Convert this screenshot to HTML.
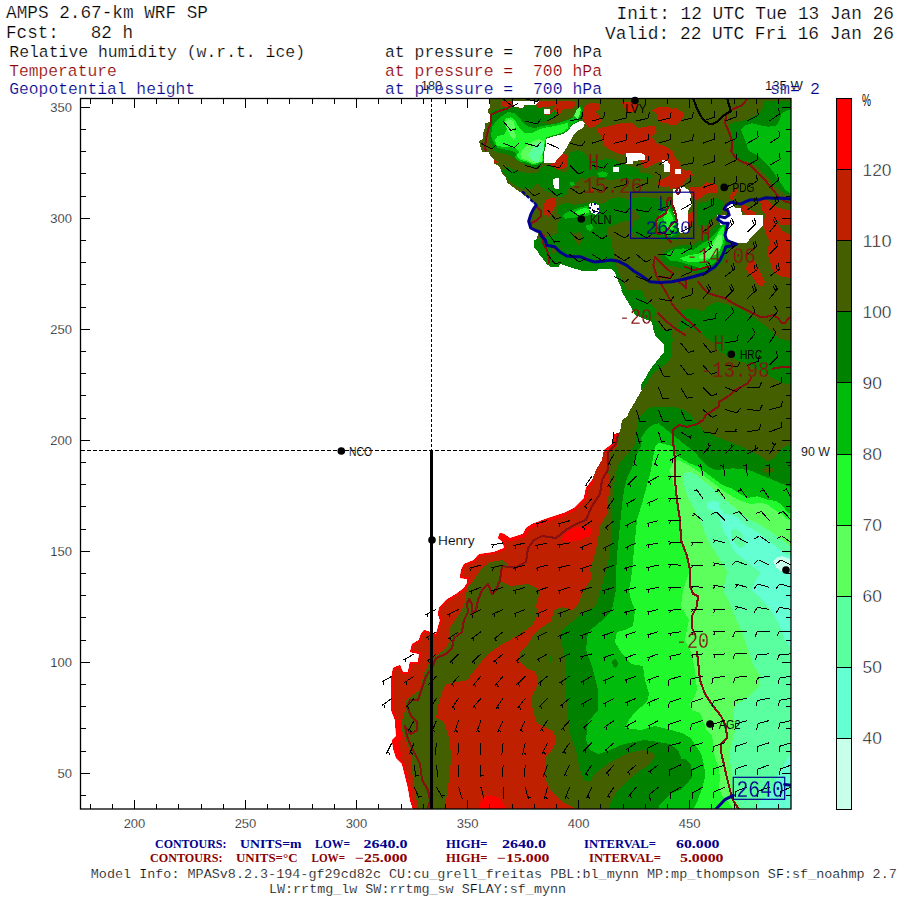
<!DOCTYPE html>
<html><head><meta charset="utf-8"><title>AMPS 2.67-km WRF SP</title>
<style>
html,body{margin:0;padding:0;background:#fff;}
body{width:900px;height:900px;overflow:hidden;}
svg{display:block;}
.m{font-family:"Liberation Mono",monospace;}
.s{font-family:"Liberation Sans",sans-serif;}
.t{font-family:"Liberation Serif",serif;font-weight:bold;}
</style></head><body>
<svg width="900" height="900" viewBox="0 0 900 900">
<rect width="900" height="900" fill="#fff"/>
<defs><clipPath id="cp"><rect x="80.5" y="98.5" width="710.5" height="710.5"/></clipPath></defs>

<g clip-path="url(#cp)" shape-rendering="crispEdges">
<polygon fill="#445f00" points="490.0,98.0 490.0,107.0 488.0,110.0 488.0,113.0 491.0,115.0 491.0,122.0 485.0,123.0 485.0,128.0 483.0,133.0 483.0,139.0 479.0,141.0 480.0,145.0 482.0,152.0 489.0,152.0 490.0,155.0 494.0,160.0 494.0,164.0 498.0,165.0 500.0,168.0 502.0,173.0 506.0,178.0 507.5,183.0 513.0,187.0 517.0,190.0 520.0,192.0 523.0,195.0 530.0,198.0 533.0,202.0 537.0,205.0 533.0,210.0 530.0,215.0 528.0,222.0 532.0,228.0 538.0,232.0 537.0,240.0 536.0,241.0 536.0,245.0 534.0,246.0 534.0,248.0 538.0,251.0 540.0,255.0 545.0,257.5 547.0,262.0 550.0,266.0 557.5,266.0 558.0,263.0 565.0,263.0 567.0,266.0 576.0,267.5 582.0,270.0 597.0,270.0 598.0,268.0 612.0,269.0 615.0,272.0 617.0,278.0 620.0,285.0 623.0,293.0 627.0,300.0 632.0,308.0 636.0,313.0 644.0,317.0 652.0,322.0 653.0,328.0 656.0,337.0 664.0,345.0 665.0,357.0 660.0,362.0 657.0,367.0 652.0,372.0 647.5,377.0 645.0,385.0 640.0,393.0 635.0,402.0 630.0,410.0 627.0,417.0 622.0,420.0 620.0,432.0 614.0,434.0 612.0,444.0 604.0,450.0 602.0,460.0 596.0,470.0 592.0,480.0 586.0,488.0 584.0,498.0 580.0,502.0 574.0,508.0 564.0,513.0 548.0,518.0 532.0,524.0 526.0,528.0 523.0,534.0 510.0,538.0 504.0,534.0 500.0,533.0 498.0,538.0 503.0,542.0 504.0,548.0 494.0,552.0 480.0,554.0 478.0,555.0 474.0,560.0 464.0,564.0 461.0,570.0 460.0,578.0 467.0,579.0 467.0,583.0 464.0,588.0 456.0,594.0 446.0,600.0 439.0,608.0 438.0,614.0 440.0,620.0 436.0,634.0 424.0,630.0 421.0,634.0 419.0,640.0 412.0,644.0 410.0,652.0 419.0,654.0 418.0,662.0 410.0,662.0 408.0,672.0 403.0,672.0 400.0,665.0 393.0,668.0 391.0,680.0 391.0,710.0 395.0,720.0 396.0,736.0 392.0,740.0 393.0,748.0 396.0,758.0 402.0,764.0 405.0,776.0 408.0,788.0 410.0,800.0 413.0,809.0 792.0,809.0 792.0,98.0"/>
<polygon fill="#be2000" points="620.0,432.0 614.0,434.0 612.0,444.0 604.0,450.0 602.0,460.0 596.0,470.0 592.0,480.0 586.0,488.0 584.0,498.0 580.0,502.0 574.0,508.0 564.0,513.0 548.0,518.0 532.0,524.0 526.0,528.0 523.0,534.0 510.0,538.0 504.0,534.0 500.0,533.0 498.0,538.0 503.0,542.0 504.0,548.0 494.0,552.0 480.0,554.0 478.0,555.0 474.0,560.0 464.0,564.0 461.0,570.0 460.0,578.0 467.0,579.0 467.0,583.0 464.0,588.0 456.0,594.0 446.0,600.0 439.0,608.0 438.0,614.0 440.0,620.0 436.0,634.0 424.0,630.0 421.0,634.0 419.0,640.0 412.0,644.0 410.0,652.0 419.0,654.0 418.0,662.0 410.0,662.0 408.0,672.0 403.0,672.0 400.0,665.0 393.0,668.0 391.0,680.0 391.0,710.0 395.0,720.0 396.0,736.0 392.0,740.0 393.0,748.0 396.0,758.0 402.0,764.0 405.0,776.0 408.0,788.0 410.0,800.0 413.0,809.0 576.0,809.0 570.0,806.0 560.0,800.0 550.0,790.0 545.0,778.0 545.0,758.0 552.0,750.0 556.0,742.0 554.0,732.0 546.0,728.0 536.0,722.0 532.0,706.0 532.0,696.0 538.0,684.0 536.0,672.0 526.0,668.0 518.0,660.0 520.0,652.0 528.0,644.0 534.0,634.0 540.0,628.0 551.0,622.0 554.0,610.0 562.0,607.0 572.0,610.0 578.0,604.0 584.0,590.0 592.0,578.0 590.0,570.0 596.0,550.0 598.0,540.0 600.0,526.0 607.0,514.0 608.0,500.0 610.0,486.0 608.0,470.0 610.0,452.0 618.0,446.0 618.0,434.0"/>
<polygon fill="#445f00" points="490.0,562.0 502.0,560.0 508.0,564.0 502.0,570.0 502.0,582.0 510.0,586.0 528.0,584.0 536.0,588.0 540.0,592.0 536.0,606.0 538.0,614.0 532.0,626.0 520.0,634.0 510.0,640.0 496.0,648.0 486.0,656.0 478.0,666.0 470.0,676.0 468.0,680.0 446.0,684.0 442.0,692.0 438.0,706.0 436.0,718.0 444.0,722.0 450.0,740.0 451.0,760.0 449.0,780.0 446.0,800.0 446.0,809.0 418.0,809.0 413.0,780.0 410.0,750.0 404.0,736.0 400.0,724.0 404.0,716.0 406.0,700.0 420.0,690.0 424.0,672.0 426.0,670.0 430.0,660.0 446.0,648.0 450.0,640.0 450.0,628.0 458.0,616.0 464.0,606.0 466.0,594.0 468.0,586.0 474.0,580.0 482.0,568.0"/>
<polygon fill="#ff0000" points="478.0,809.0 482.0,798.0 490.0,795.0 500.0,798.0 506.0,809.0"/>
<polygon fill="#ff0000" points="564.0,534.0 572.0,528.0 584.0,526.0 592.0,528.0 590.0,536.0 580.0,540.0 568.0,542.0 562.0,540.0"/>
<polygon fill="#008200" points="792.0,443.0 784.3,446.7 779.3,451.7 774.3,458.3 767.7,461.7 761.0,456.7 749.3,450.0 737.7,445.0 724.3,440.0 712.7,435.0 702.7,430.0 696.0,421.7 691.0,415.0 682.7,409.0 671.0,406.7 657.7,406.7 648.0,408.0 641.0,415.0 637.0,422.0 636.5,430.0 636.0,443.0 631.0,450.0 624.5,457.0 619.0,464.0 616.0,472.0 614.0,485.0 612.5,500.0 612.0,515.0 612.5,529.0 610.0,547.0 608.0,565.0 603.0,582.0 600.0,592.0 596.0,606.0 580.0,614.0 572.0,622.0 562.0,630.0 561.0,640.0 564.0,654.0 566.0,670.0 565.0,690.0 568.0,710.0 569.0,730.0 572.0,740.0 576.0,750.0 580.0,770.0 584.0,780.0 590.0,782.0 594.0,774.0 610.0,762.0 626.0,754.0 642.0,750.0 652.0,752.0 655.0,756.0 650.0,764.0 638.0,772.0 626.0,782.0 618.0,790.0 612.0,800.0 608.0,809.0 792.0,809.0"/>
<polygon fill="#00ba0c" points="792.0,488.0 771.0,479.0 761.0,475.0 749.3,470.0 732.7,468.3 716.0,470.0 707.7,466.7 701.0,460.0 696.0,453.3 687.7,446.7 679.3,440.0 671.0,433.3 662.7,426.7 654.3,424.0 647.7,428.3 641.0,438.0 641.0,446.0 637.0,454.0 634.0,462.0 631.0,470.0 627.0,478.0 624.0,490.0 622.0,505.0 620.5,520.0 619.0,535.0 617.5,550.0 616.5,565.0 616.0,582.0 616.0,590.0 612.0,610.0 600.0,622.0 588.0,632.0 586.0,650.0 592.0,666.0 598.0,690.0 598.0,710.0 588.0,722.0 586.0,740.0 590.0,750.0 598.0,754.0 610.0,750.0 624.0,744.0 644.0,740.0 658.0,742.0 670.0,744.0 678.0,750.0 682.0,760.0 690.0,766.0 692.0,778.0 682.0,786.0 670.0,794.0 660.0,804.0 658.0,809.0 792.0,809.0"/>
<polygon fill="#20fa2c" points="651.0,470.0 655.0,446.0 659.0,443.0 664.0,444.0 672.0,446.0 675.0,452.0 676.0,455.0 681.6,458.4 689.4,463.1 697.3,466.3 703.6,471.0 710.0,475.8 716.3,480.5 722.6,485.2 732.0,488.4 738.4,493.1 747.8,497.8 757.3,496.3 766.8,499.4 776.2,501.0 782.5,505.7 787.3,512.0 792.0,514.0 792.0,809.0 693.0,809.0 697.3,802.0 700.0,794.0 702.7,786.0 705.3,775.3 704.0,764.7 701.3,754.0 696.0,746.0 690.7,738.0 682.0,733.0 671.0,730.0 655.0,726.0 641.0,730.0 625.0,728.0 629.0,720.0 635.0,712.0 647.0,702.0 649.0,694.0 645.0,680.0 643.0,666.0 631.0,664.0 621.0,652.0 615.0,642.0 617.0,632.0 625.0,630.0 633.0,626.0 635.0,610.0 631.0,600.0 629.0,590.0 631.0,580.0 633.0,560.0 635.0,540.0 637.0,520.0 643.0,500.0"/>
<polygon fill="#5cff5c" points="668.9,471.0 673.7,461.6 678.4,460.0 686.3,463.9 694.2,468.7 702.1,474.2 710.0,480.5 716.3,485.2 724.2,491.5 732.0,496.3 741.5,501.0 751.0,504.2 760.4,502.6 766.8,504.2 773.1,508.9 781.0,513.6 785.7,518.4 792.0,521.5 792.0,809.0 733.0,809.0 729.3,803.3 722.7,796.7 718.7,788.7 720.0,778.0 718.7,767.3 714.7,756.7 713.3,746.0 712.0,735.3 706.7,730.0 702.7,719.3 700.0,712.7 692.0,710.0 689.3,704.7 694.7,696.7 697.0,690.0 695.0,670.0 691.0,652.0 685.0,640.0 689.0,620.0 681.0,606.0 683.0,590.0 689.4,572.0 689.4,564.0 686.3,553.0 681.6,540.4 680.0,524.7 678.4,508.9 675.2,493.1 672.0,477.3"/>
<polygon fill="#5affa0" points="683.9,473.4 689.4,471.8 697.3,475.8 705.2,482.1 713.1,488.4 721.0,496.3 728.9,502.6 738.4,510.5 747.8,518.4 757.3,523.1 769.9,531.0 781.0,538.9 792.0,547.5 792.0,809.0 741.0,809.0 738.7,804.7 734.7,800.7 733.3,795.0 732.0,776.7 730.7,767.3 730.0,756.7 730.7,746.0 733.3,738.0 735.3,730.0 734.7,720.7 733.3,711.3 736.0,704.7 742.7,700.7 752.0,694.0 759.0,686.0 759.0,674.0 753.0,664.0 747.0,646.0 741.0,630.0 735.0,616.0 729.0,602.0 723.0,590.0 727.3,572.0 722.6,564.1 717.8,556.2 711.5,546.8 705.2,534.1 702.1,524.7 697.3,515.2 692.6,505.7 687.9,496.3 683.1,483.6"/>
<polygon fill="#64ffd2" points="706.8,502.6 713.1,501.0 719.4,502.6 719.4,507.3 724.2,513.6 732.0,515.2 738.4,518.4 744.7,524.7 752.6,529.4 760.4,534.1 768.3,540.4 776.2,546.8 784.1,553.1 792.0,557.0 792.0,650.0 785.0,640.0 779.0,624.0 771.0,610.0 759.0,596.0 751.0,590.0 760.4,572.0 754.1,567.3 747.8,562.5 739.9,556.2 733.6,549.9 728.9,540.4 724.2,532.6 721.0,524.7 719.4,516.8 713.1,510.5 706.8,508.9"/>
<polygon fill="#5affa0" points="730.5,531.0 735.2,528.6 741.5,532.6 744.7,540.4 744.7,546.8 739.9,548.3 735.2,543.6 731.3,537.3"/>
<polygon fill="#c8ffeb" points="773.1,561.0 776.2,557.8 782.5,556.2 788.8,558.6 792.0,562.5 792.0,572.0 782.5,572.0 776.2,567.3"/>
<polygon fill="#64ffd2" points="792.0,754.0 786.7,759.3 782.7,767.3 778.7,772.7 776.0,780.7 773.3,788.7 768.0,796.7 760.0,800.7 757.3,809.0 792.0,809.0"/>
<polygon fill="#008200" points="680.0,759.0 685.0,759.0 690.7,764.7 692.0,772.7 688.0,783.0 680.0,790.0 670.0,794.0 682.0,786.0 692.0,778.0"/>
<polygon fill="#be2000" points="502.3,101.3 513.0,101.3 513.0,106.7 509.7,108.7 502.3,106.0"/>
<polygon fill="#be2000" points="539.0,101.3 573.7,101.3 575.7,104.0 573.7,108.0 568.3,109.3 563.0,108.7 560.3,113.3 555.0,116.0 549.7,119.3 541.7,122.7 539.0,120.7 543.0,116.0 549.7,112.0 553.7,109.3 555.0,105.3 544.3,107.3 537.7,108.0 536.3,104.7"/>
<polygon fill="#be2000" points="583.0,108.0 587.0,104.0 595.0,102.7 599.7,104.0 600.3,109.3 595.0,112.0 599.7,116.0 601.0,121.3 595.0,126.7 589.7,128.0 585.7,124.0 583.0,118.7 581.7,113.3"/>
<polygon fill="#be2000" points="549.7,164.0 555.0,162.7 557.7,158.7 561.7,154.7 565.7,153.3 568.3,157.3 569.7,161.3 567.0,166.7 561.7,169.3 555.0,170.0 551.7,168.0"/>
<polygon fill="#be2000" points="551.0,188.0 555.0,189.3 557.7,192.0 555.0,194.0 551.7,192.0"/>
<polygon fill="#be2000" points="545.7,200.0 551.0,197.3 556.3,198.7 555.0,202.7 552.3,208.0 549.7,214.7 544.3,214.7 543.0,206.7"/>
<polygon fill="#be2000" points="494.3,160.0 497.0,161.3 496.3,164.0 494.3,163.3"/>
<polygon fill="#be2000" points="543.3,205.3 546.7,200.0 550.7,198.0 555.3,200.0 556.0,204.0 553.3,209.3 550.7,214.7 548.7,217.3 546.7,214.7 546.0,209.3"/>
<polygon fill="#be2000" points="548.7,188.0 553.3,188.7 555.3,191.3 552.0,190.7"/>
<polygon fill="#be2000" points="588.7,188.7 592.7,188.7 592.7,192.0 588.7,192.0"/>
<polygon fill="#be2000" points="598.3,128.3 606.7,126.7 620.0,123.3 631.7,122.5 638.3,128.3 646.7,126.7 655.0,125.8 656.7,131.7 651.7,136.7 656.7,143.3 666.7,146.7 673.3,151.7 675.0,158.3 680.0,161.7 680.8,165.0 673.3,168.3 666.7,165.0 660.0,161.7 653.3,165.0 645.0,168.3 640.0,161.7 645.0,156.7 641.7,153.3 626.7,152.5 623.3,155.0 616.7,153.3 610.0,150.0 603.3,145.0 601.7,136.7 596.7,131.7"/>
<polygon fill="#be2000" points="651.7,110.0 660.0,106.7 670.0,107.5 680.0,111.7 683.3,116.7 680.0,121.7 671.7,124.2 661.7,122.5 656.7,118.3 656.7,114.2"/>
<polygon fill="#be2000" points="621.7,101.7 636.7,101.7 638.3,106.7 635.0,111.7 626.7,111.7 623.3,106.7"/>
<polygon fill="#be2000" points="658.3,181.7 670.0,175.0 680.0,175.0 688.3,170.0 692.5,173.3 690.0,176.7 683.3,178.3 682.5,185.0 676.7,187.5 671.7,185.8 663.3,187.5 658.3,185.0"/>
<polygon fill="#be2000" points="690.0,188.3 696.7,187.5 703.3,185.8 710.0,182.5 716.7,185.0 718.3,190.0 713.3,192.5 706.7,191.7 700.0,195.0 696.7,200.0 693.3,198.3 691.7,193.3"/>
<polygon fill="#be2000" points="687.5,215.0 693.3,211.7 694.2,218.3 690.0,226.7 686.7,228.3 685.8,220.0"/>
<polygon fill="#be2000" points="670.0,109.4 675.8,108.0 683.0,112.3 681.6,119.6 675.8,125.3 670.0,125.3"/>
<polygon fill="#be2000" points="670.0,151.3 672.9,155.7 678.7,161.4 680.1,167.2 684.4,170.1 691.7,171.6 693.1,175.9 685.9,178.8 683.0,184.6 677.2,187.4 670.0,188.9"/>
<polygon fill="#be2000" points="688.8,187.4 701.8,187.4 706.1,182.4 713.3,183.1 717.7,187.4 718.4,193.2 709.0,193.2 703.2,196.1 696.0,200.4 693.1,196.1"/>
<polygon fill="#be2000" points="729.2,197.6 733.6,190.3 737.9,187.4 736.4,193.2 732.1,200.4"/>
<polygon fill="#be2000" points="759.6,199.0 768.2,200.4 774.0,206.2 782.7,209.1 792.8,210.6 792.8,225.0 779.8,225.0 776.9,216.3 768.2,216.3 762.4,210.6 761.0,204.8"/>
<polygon fill="#be2000" points="742.2,204.8 748.0,206.2 750.9,210.6 755.2,212.0 753.8,219.2 748.0,216.3 742.2,210.6"/>
<polygon fill="#be2000" points="766.7,215.0 776.7,215.0 778.3,225.0 783.3,231.7 791.7,235.0 791.7,278.3 781.7,276.7 773.3,271.7 770.0,261.7 766.7,251.7 770.0,241.7 765.0,231.7 763.3,221.7"/>
<polygon fill="#be2000" points="748.3,263.3 753.3,258.3 756.7,265.0 760.0,271.7 765.0,281.7 763.3,286.7 758.3,285.0 753.3,278.3 748.3,273.3 745.8,268.3"/>
<polygon fill="#be2000" points="751.7,215.0 756.7,215.0 758.3,218.3 753.3,218.3"/>
<polygon fill="#008200" points="492.3,110.7 499.0,108.7 507.0,106.7 515.0,107.3 520.3,109.3 525.7,106.0 531.0,104.7 537.7,108.0 544.3,107.3 543.7,114.7 549.7,114.7 555.0,109.3 557.7,113.3 553.7,117.3 547.0,121.3 541.7,122.7 549.7,124.0 557.7,122.7 565.7,120.0 572.3,117.3 576.3,109.3 579.0,105.3 581.7,104.0 583.0,109.3 581.7,116.0 581.7,120.7 576.3,122.7 571.0,126.0 568.3,130.7 563.0,134.0 555.0,136.0 546.3,138.7 545.7,146.7 543.7,153.3 544.3,162.7 539.0,166.7 533.7,168.0 528.3,165.3 520.3,162.7 515.0,158.7 508.3,154.7 501.7,153.3 495.0,152.0 491.0,146.7 489.7,138.7 488.3,132.0 491.0,125.3 492.3,117.3"/>
<polygon fill="#008200" points="501.7,170.7 507.0,166.7 515.0,170.7 523.0,172.0 531.0,173.3 541.7,172.0 549.7,170.7 555.0,172.0 560.3,176.0 568.3,170.7 572.3,165.3 576.3,154.7 581.7,152.0 585.7,156.0 588.3,162.7 585.7,170.7 581.7,176.0 579.0,181.3 573.7,182.7 568.3,186.7 567.0,193.3 561.7,197.3 555.0,196.0 549.7,189.3 541.7,185.3 533.7,182.7 528.3,186.7 520.3,188.0 515.0,185.3 509.7,181.3 505.7,176.0"/>
<polygon fill="#008200" points="558.7,205.3 565.3,202.7 573.3,204.7 580.0,204.0 588.0,202.7 594.7,201.3 600.0,204.0 605.3,202.7 610.7,198.7 618.7,197.3 626.7,198.7 630.7,201.3 630.7,220.0 625.3,221.3 618.7,222.7 613.3,225.3 606.7,228.0 608.0,234.7 612.0,241.3 610.7,249.3 605.3,254.7 600.0,260.0 592.0,260.0 584.0,256.0 576.0,254.7 568.0,253.3 561.3,249.3 558.7,242.7 557.3,233.3 557.3,225.3 560.0,217.3 557.3,210.7"/>
<polygon fill="#445f00" points="572.0,233.3 580.0,232.0 582.7,236.0 581.3,241.3 578.7,245.3 576.0,242.7 573.3,237.3"/>
<polygon fill="#008200" points="534.0,240.0 539.3,238.7 545.3,237.3 550.7,242.7 556.0,246.7 560.0,252.0 564.0,254.7 570.7,256.7 578.7,257.3 586.7,260.0 594.7,262.7 605.3,261.3 613.3,260.0 616.0,265.3 618.7,273.3 622.7,281.3 626.7,290.7 630.7,296.0 633.3,300.0 626.7,300.0 622.7,290.7 620.0,284.0 617.3,278.7 614.7,272.0 612.0,269.3 598.7,268.7 597.3,270.7 581.3,270.7 576.0,268.0 568.0,266.7 565.3,264.0 560.0,264.0 558.7,266.7 550.7,266.7 546.7,264.0 544.0,260.0 540.0,256.0 537.3,250.7 534.0,248.0"/>
<polygon fill="#008200" points="539.3,238.7 545.3,237.3 557.3,233.3 560.0,249.3 576.0,254.7 592.0,260.0 605.3,254.7 612.0,241.3 613.3,260.0 616.0,265.3 612.0,269.3 598.7,268.7 581.3,270.7 560.0,264.0 546.7,264.0 537.3,250.7"/>
<polygon fill="#445f00" points="550.7,248.0 556.0,246.7 558.0,250.7 554.7,254.0 551.3,252.7"/>
<polygon fill="#008200" points="520.0,180.0 532.0,180.0 536.0,184.0 533.3,188.0 528.0,189.3 520.0,188.0"/>
<polygon fill="#008200" points="544.0,190.7 554.7,193.3 564.0,192.7 569.3,188.0 576.0,184.0 573.3,180.0 560.0,180.0 557.3,185.3 550.7,188.0"/>
<polygon fill="#008200" points="596.7,161.7 606.7,158.3 615.0,160.0 625.0,165.0 633.3,166.7 640.0,170.0 636.7,175.0 623.3,178.3 610.0,180.0 600.0,176.7 590.0,175.0 580.0,173.3 575.0,165.0 580.0,158.3 590.0,160.0"/>
<polygon fill="#008200" points="570.7,152.0 578.7,150.0 585.3,153.3 588.0,160.0 596.0,158.7 604.0,161.3 606.7,168.0 614.7,172.0 625.3,170.7 636.0,172.0 646.7,173.3 653.3,176.0 649.3,179.3 633.3,178.7 620.0,179.3 609.3,178.7 600.0,178.7 593.3,176.0 584.0,178.7 577.3,176.0 570.7,170.7 566.7,164.0 568.7,157.3"/>
<polygon fill="#008200" points="540.0,168.0 548.0,165.3 557.3,169.3 566.7,173.3 573.3,178.7 569.3,186.7 561.3,194.7 553.3,194.7 545.3,189.3 540.0,186.7"/>
<polygon fill="#00ba0c" points="597.3,173.3 602.7,171.3 608.0,173.3 606.0,176.7 600.0,177.3"/>
<polygon fill="#008200" points="631.7,198.3 643.3,196.7 656.7,198.3 668.3,201.7 673.3,198.3 676.7,211.7 680.0,233.3 676.7,240.0 663.3,240.0 653.3,235.0 640.0,238.3 631.7,231.7 633.3,221.7 640.0,218.3 636.7,211.7 631.7,208.3"/>
<polygon fill="#008200" points="696.7,203.3 706.7,201.7 716.7,198.3 723.3,201.7 721.7,211.7 713.3,218.3 706.7,225.0 700.0,228.3 696.7,221.7 698.3,211.7"/>
<polygon fill="#008200" points="763.9,101.5 771.1,100.8 792.8,100.8 792.8,196.1 785.6,194.7 779.8,190.3 774.0,184.6 769.7,178.8 763.9,173.0 756.7,165.8 748.0,161.4 739.3,160.0 733.6,154.2 731.4,144.1 732.1,136.9 730.7,131.1 729.2,125.3 733.6,122.4 742.2,121.0 750.9,118.1 759.6,112.3 763.9,106.6"/>
<polygon fill="#008200" points="681.7,310.0 693.3,308.3 703.3,311.7 706.7,306.7 716.7,301.7 728.3,305.0 740.0,308.3 750.0,315.0 760.0,321.7 770.0,330.0 778.3,338.3 791.7,346.7 791.7,353.3 776.7,353.3 766.7,351.7 756.7,346.7 743.3,346.7 728.3,348.3 716.7,345.0 705.0,336.7 700.0,331.7 690.0,328.3 683.3,321.7"/>
<polygon fill="#008200" points="704.3,326.7 741.0,326.7 767.7,335.0 791.0,341.7 791.0,385.0 779.3,381.7 767.7,375.0 754.3,368.3 741.0,361.7 727.7,356.7 716.0,348.3 714.3,340.0"/>
<polygon fill="#008200" points="620.8,290.0 641.7,290.0 645.0,298.3 653.3,306.7 656.7,311.7 653.3,318.3 658.3,323.3 665.0,333.3 670.0,341.7 671.7,356.7 666.7,363.3 660.0,368.3 653.3,373.3 648.3,380.0 645.0,385.0 647.5,376.7 651.7,371.7 656.7,366.7 660.0,361.7 665.0,356.7 664.2,345.0 655.8,336.7 653.3,328.3 651.7,321.7 635.0,315.0 631.7,308.3 626.7,300.0"/>
<polygon fill="#008200" points="681.7,310.0 693.3,308.3 701.7,311.7 705.0,318.3 700.0,323.3 690.0,325.0 683.3,330.0 676.7,331.7 680.0,323.3 683.3,316.7"/>
<polygon fill="#008200" points="654.3,330.0 671.8,330.0 672.7,340.0 671.0,351.7 666.0,360.0 657.7,368.3 651.0,375.0 646.0,385.0 641.0,390.0 641.0,385.0 646.0,376.7 651.0,368.3 657.7,360.0 664.3,351.7 666.0,340.0"/>
<polygon fill="#008200" points="660.0,256.7 666.7,250.0 680.0,245.0 693.3,245.0 700.0,240.0 708.3,233.3 716.7,225.0 723.3,218.3 730.0,223.3 730.0,240.0 728.3,251.7 723.3,261.7 716.7,268.3 706.7,273.3 696.7,273.3 686.7,270.0 675.0,266.7 665.0,265.0"/>
<polygon fill="#00ba0c" points="665.0,255.0 671.7,250.0 683.3,248.3 693.3,250.0 700.0,245.0 708.3,240.0 716.7,231.7 721.7,225.0 725.0,221.7 728.3,225.0 726.7,235.0 725.0,245.0 721.7,255.0 716.7,261.7 708.3,266.7 700.0,268.3 690.0,265.0 680.0,261.7 670.0,260.8"/>
<polygon fill="#20fa2c" points="680.0,258.3 690.0,255.0 700.0,253.3 708.3,246.7 715.0,238.3 720.0,230.0 723.3,226.7 725.0,231.7 723.3,241.7 720.0,250.0 713.3,256.7 703.3,261.7 693.3,262.5 683.3,260.8"/>
<polygon fill="#5cff5c" points="698.3,256.7 706.7,251.7 713.3,243.3 718.3,235.0 721.7,235.0 721.7,245.0 716.7,253.3 708.3,258.3 700.0,259.2"/>
<polygon fill="#00ba0c" points="492.3,126.7 495.0,122.7 501.7,116.0 508.3,112.0 515.0,113.3 519.0,117.3 523.0,122.7 528.3,126.7 535.0,128.0 541.7,126.0 549.7,124.7 557.7,123.3 565.7,120.7 572.3,118.0 576.3,110.7 580.3,106.7 581.7,110.7 580.3,117.3 576.3,122.0 571.0,125.3 568.3,130.0 563.0,133.3 555.0,135.3 546.3,138.0 545.0,146.7 543.0,153.3 543.7,161.3 537.7,164.7 532.3,165.3 527.0,162.7 519.0,161.3 515.0,157.3 516.3,153.3 511.0,150.7 504.3,149.3 497.7,148.0 493.7,142.7 491.0,136.0"/>
<polygon fill="#20fa2c" points="495.0,140.0 497.7,136.0 504.3,134.7 507.0,129.3 503.7,122.7 505.7,118.7 511.0,117.3 515.0,120.0 517.7,125.3 521.7,130.7 525.7,133.3 532.3,132.7 539.0,129.3 547.0,127.3 555.0,126.0 563.0,124.0 568.3,122.7 568.3,128.0 563.0,132.0 555.0,134.7 546.3,137.3 544.3,145.3 542.3,153.3 543.0,160.7 537.7,163.3 532.3,164.0 527.0,161.3 520.3,160.0 516.3,156.0 519.0,152.0 515.0,148.0 508.3,146.7 501.7,146.7 496.3,145.3"/>
<polygon fill="#5cff5c" points="505.0,122.0 508.3,119.3 513.7,121.3 515.0,126.7 513.7,130.7 516.3,136.0 513.7,140.0 509.7,134.7 507.0,129.3"/>
<polygon fill="#5cff5c" points="520.3,154.7 523.0,149.3 527.0,145.3 532.3,141.3 539.0,139.3 544.3,141.3 544.3,149.3 541.7,156.0 542.3,161.3 537.7,162.7 532.3,162.7 527.0,160.0 521.7,158.7"/>
<polygon fill="#5affa0" points="528.3,154.7 532.3,149.3 535.0,144.0 540.3,142.0 544.3,144.0 543.0,152.0 540.3,156.0 540.3,161.3 536.3,162.0 532.3,160.0"/>
<polygon fill="#5cff5c" points="574.3,116.0 576.3,110.7 579.7,107.3 581.0,109.3 579.7,114.7 577.7,118.7"/>
<polygon fill="#00ba0c" points="562.0,216.0 565.3,213.3 570.7,210.7 576.0,208.7 582.7,206.7 588.0,206.0 589.3,210.7 590.7,214.7 586.7,216.0 578.7,216.7 573.3,218.0 565.3,218.7"/>
<polygon fill="#20fa2c" points="574.7,212.0 578.7,210.0 584.0,208.0 588.7,208.7 589.3,212.7 584.0,214.0 578.7,214.7"/>
<polygon fill="#00ba0c" points="586.0,225.3 592.0,224.0 593.3,228.0 590.7,231.3 586.7,229.3"/>
<polygon fill="#00ba0c" points="569.3,182.7 573.3,182.0 574.7,184.7 571.3,186.0"/>
<polygon fill="#00ba0c" points="656.7,218.3 663.3,211.7 668.3,205.0 671.7,211.7 676.7,221.7 678.3,231.7 671.7,236.7 663.3,235.0 658.3,228.3"/>
<polygon fill="#20fa2c" points="663.3,218.3 668.3,210.0 671.7,215.0 675.0,223.3 673.3,230.0 666.7,228.3"/>
<polygon fill="#00ba0c" points="740.8,129.7 745.1,125.3 752.3,123.2 759.6,125.3 768.2,126.8 776.9,125.3 779.8,119.6 781.2,113.8 785.6,110.9 792.8,109.4 792.8,194.7 785.6,190.3 779.8,181.7 774.0,173.0 769.7,167.2 763.9,161.4 758.1,155.7 752.3,152.8 748.0,149.9 746.6,144.1 743.7,136.9"/>
<polygon fill="#00ba0c" points="643.3,440.0 646.7,431.7 653.3,425.0 658.3,423.3 665.0,428.3 670.0,433.3 673.3,440.0"/>
<polygon fill="#ffffff" points="513.0,101.3 539.0,101.3 536.3,104.7 525.0,104.7 522.3,108.7 519.0,107.3 513.0,106.7"/>
<polygon fill="#ffffff" points="544.1,108.9 549.9,108.9 549.9,114.0 544.1,114.0"/>
<polygon fill="#ffffff" points="546.3,138.7 555.0,136.0 563.0,134.0 568.3,130.7 571.0,126.0 576.3,122.7 581.7,120.7 585.0,123.3 583.0,128.0 577.7,130.7 573.7,134.7 571.0,140.0 567.0,146.7 563.0,153.3 557.7,158.7 555.0,162.7 544.3,162.7 543.7,153.3 545.7,146.7"/>
<polygon fill="#ffffff" points="553.0,178.7 559.0,178.0 559.0,188.7 555.0,188.7 553.0,184.0"/>
<polygon fill="#ffffff" points="588.7,204.0 592.7,202.7 598.7,205.3 599.3,212.0 596.0,214.7 592.0,213.3 589.3,210.0"/>
<polygon fill="#ffffff" points="552.7,180.0 559.3,180.0 559.3,188.0 554.7,188.0 553.3,184.0"/>
<polygon fill="#ffffff" points="626.3,152.5 640.0,152.5 645.0,155.0 645.0,160.0 633.3,160.8 633.3,164.2 626.3,164.2"/>
<polygon fill="#ffffff" points="612.8,167.0 619.2,167.0 619.2,172.0 612.8,172.0"/>
<polygon fill="#ffffff" points="662.0,160.3 666.7,160.3 670.0,165.0 670.0,171.7 664.2,171.7 664.2,165.0 662.0,163.3"/>
<polygon fill="#ffffff" points="674.7,168.8 680.8,168.8 680.8,173.8 674.7,173.8"/>
<polygon fill="#ffffff" points="673.3,189.2 676.7,188.3 680.0,187.5 683.3,186.7 688.3,190.0 690.8,195.0 691.7,205.0 687.5,211.7 688.3,221.7 687.5,233.3 680.0,233.3 676.7,221.7 673.3,211.7 673.3,198.3"/>
<polygon fill="#ffffff" points="726.3,204.8 732.1,202.6 735.0,207.7 740.8,208.4 742.2,214.9 750.9,216.3 762.4,220.7 762.4,225.0 720.6,225.0 717.7,219.2 724.9,217.8 728.5,214.9 727.8,210.6 724.2,209.1"/>
<polygon fill="#ffffff" points="716.7,215.0 763.3,215.0 763.3,225.0 756.7,231.7 746.7,242.5 733.3,242.5 726.7,240.0 725.8,231.7 728.3,225.0 723.3,223.3 718.3,221.7"/>
<polygon fill="#445f00" points="762.0,468.7 766.8,467.1 774.6,468.7 773.1,471.8 766.8,472.9 762.8,471.3"/>
<polygon fill="#008200" points="612.0,661.0 614.0,659.0 617.0,660.0 618.0,664.0 616.0,668.0 613.0,667.0"/>
<polygon fill="#008200" points="549.0,657.0 551.0,656.0 552.0,660.0 551.0,663.0 549.0,661.0"/>
</g>
<defs><clipPath id="cb"><polygon points="490.0,98.0 490.0,107.0 488.0,110.0 488.0,113.0 491.0,115.0 491.0,122.0 485.0,123.0 485.0,128.0 483.0,133.0 483.0,139.0 479.0,141.0 480.0,145.0 482.0,152.0 489.0,152.0 490.0,155.0 494.0,160.0 494.0,164.0 498.0,165.0 500.0,168.0 502.0,173.0 506.0,178.0 507.5,183.0 513.0,187.0 517.0,190.0 520.0,192.0 523.0,195.0 530.0,198.0 533.0,202.0 537.0,205.0 533.0,210.0 530.0,215.0 528.0,222.0 532.0,228.0 538.0,232.0 537.0,240.0 536.0,241.0 536.0,245.0 534.0,246.0 534.0,248.0 538.0,251.0 540.0,255.0 545.0,257.5 547.0,262.0 550.0,266.0 557.5,266.0 558.0,263.0 565.0,263.0 567.0,266.0 576.0,267.5 582.0,270.0 597.0,270.0 598.0,268.0 612.0,269.0 615.0,272.0 617.0,278.0 620.0,285.0 623.0,293.0 627.0,300.0 632.0,308.0 636.0,313.0 644.0,317.0 652.0,322.0 653.0,328.0 656.0,337.0 664.0,345.0 665.0,357.0 660.0,362.0 657.0,367.0 652.0,372.0 647.5,377.0 645.0,385.0 640.0,393.0 635.0,402.0 630.0,410.0 627.0,417.0 622.0,420.0 620.0,432.0 614.0,434.0 612.0,444.0 604.0,450.0 602.0,460.0 596.0,470.0 592.0,480.0 586.0,488.0 584.0,498.0 580.0,502.0 574.0,508.0 564.0,513.0 548.0,518.0 532.0,524.0 526.0,528.0 523.0,534.0 510.0,538.0 504.0,534.0 500.0,533.0 498.0,538.0 503.0,542.0 504.0,548.0 494.0,552.0 480.0,554.0 478.0,555.0 474.0,560.0 464.0,564.0 461.0,570.0 460.0,578.0 467.0,579.0 467.0,583.0 464.0,588.0 456.0,594.0 446.0,600.0 439.0,608.0 438.0,614.0 440.0,620.0 436.0,634.0 424.0,630.0 421.0,634.0 419.0,640.0 412.0,644.0 410.0,652.0 419.0,654.0 418.0,662.0 410.0,662.0 408.0,672.0 403.0,672.0 400.0,665.0 393.0,668.0 391.0,680.0 391.0,710.0 395.0,720.0 396.0,736.0 392.0,740.0 393.0,748.0 396.0,758.0 402.0,764.0 405.0,776.0 408.0,788.0 410.0,800.0 413.0,809.0 792.0,809.0 792.0,98.0"/></clipPath></defs>
<g clip-path="url(#cb)" fill="none" stroke="#ff0000" shape-rendering="crispEdges">
<polyline stroke-width="5" points="592.0,480.0 586.0,488.0 584.0,498.0 580.0,502.0 574.0,508.0 564.0,513.0"/>
<polyline stroke-width="7" points="564.0,513.0 548.0,518.0 532.0,524.0 526.0,528.0 523.0,534.0 510.0,538.0 504.0,534.0 500.0,533.0 498.0,538.0"/>
<polyline stroke-width="4" points="498.0,538.0 503.0,542.0 504.0,548.0 494.0,552.0 480.0,554.0 478.0,555.0 474.0,560.0 464.0,564.0 461.0,570.0 460.0,578.0 467.0,579.0 467.0,583.0 464.0,588.0 456.0,594.0 446.0,600.0 439.0,608.0 438.0,614.0 440.0,620.0 436.0,634.0 424.0,630.0 421.0,634.0 419.0,640.0 412.0,644.0 410.0,652.0 419.0,654.0 418.0,662.0 410.0,662.0 408.0,672.0 403.0,672.0 400.0,665.0 393.0,668.0 391.0,680.0"/>
<polyline stroke-width="8" points="504.0,534.0 500.0,533.0 498.0,538.0 503.0,542.0"/>
<polyline stroke-width="5" points="391.0,680.0 391.0,710.0 395.0,720.0"/>
<polyline stroke-width="12" points="395.0,720.0 396.0,736.0 392.0,740.0 393.0,748.0 396.0,758.0"/>
<polyline stroke-width="5" points="396.0,758.0 402.0,764.0 405.0,776.0 408.0,788.0 410.0,800.0 413.0,809.0"/>
<polyline stroke-width="7" points="614.0,434.0 612.0,444.0 604.0,450.0"/>
</g>
<g clip-path="url(#cp)" fill="none" stroke-linejoin="round" stroke-linecap="round" shape-rendering="crispEdges">
<polyline stroke="#861010" stroke-width="2.1" points="703.0,420.0 697.0,424.0 687.0,427.0 679.0,425.0 673.0,430.0 673.0,440.0 675.0,460.0 675.0,480.0 677.0,500.0 680.0,520.0 681.0,540.0 687.0,556.0 690.0,570.0 690.0,586.0 693.0,594.0 698.0,596.0 697.0,606.0 692.0,616.0 692.0,628.0 695.0,634.0"/>
<polyline stroke="#861010" stroke-width="2.1" points="697.0,652.0 699.0,670.0 700.0,680.0 705.0,694.0 713.0,706.0 721.0,716.0 726.0,726.0 727.0,738.0 721.0,744.0 721.0,752.0 724.0,764.7 726.7,776.7 730.7,792.7 733.3,800.7 738.7,809.0"/>
<polyline stroke="#861010" stroke-width="2.1" points="703.0,420.0 706.0,415.0 711.0,411.7 718.5,406.7 719.3,401.7 727.7,396.7 734.3,390.8 747.7,383.3 751.0,378.3"/>
<polyline stroke="#861010" stroke-width="2.1" points="772.7,368.7 782.7,367.0 792.0,366.7"/>
<polyline stroke="#861010" stroke-width="2.1" points="618.0,434.0 616.0,444.0 608.0,452.0 608.0,470.0 602.0,480.0 600.0,494.0 592.0,506.0 586.0,520.0 576.0,524.0 566.0,530.0 556.0,538.0 542.0,536.0 534.0,540.0 528.0,548.0 526.0,562.0 516.0,567.0 508.0,567.0 502.0,566.0 500.0,580.0 496.0,590.0 492.0,594.0 488.0,584.0 482.0,590.0 478.0,600.0 476.0,610.0 472.0,614.0 472.0,604.0 469.0,599.0 467.0,604.0 468.0,612.0 464.0,620.0 462.0,632.0 454.0,638.0 452.0,648.0 446.0,654.0 436.0,658.0 432.0,668.0 426.0,676.0 422.0,688.0 418.0,700.0 410.0,700.0 407.0,706.0 411.0,716.0 417.0,722.0 417.0,730.0 411.0,734.0 406.0,728.0 405.0,726.0 407.0,736.0 410.0,744.0 416.0,756.0 420.0,764.0 422.0,780.0 428.0,790.0 430.0,800.0 428.0,809.0"/>
<polyline stroke="#861010" stroke-width="2.1" points="512.3,105.3 507.0,108.7 501.7,110.0 495.0,112.7 491.0,114.7 491.0,122.7 488.3,129.3 486.3,137.3 485.0,146.7 485.7,150.7"/>
<polyline stroke="#861010" stroke-width="2.1" points="535.7,205.3 540.7,210.7 540.7,216.0 537.3,220.0 532.0,222.7 530.7,226.7"/>
<polyline stroke="#861010" stroke-width="2.1" points="540.0,232.0 544.0,236.0 542.7,242.7 546.7,249.3 548.7,256.0 548.7,262.7"/>
<polyline stroke="#861010" stroke-width="2.1" points="748.0,98.0 742.2,105.1 732.1,109.4 726.3,115.2 724.9,122.4 729.2,132.6 732.1,141.2 731.4,151.3 735.0,157.1 742.2,162.2 749.4,164.3 756.7,171.6 763.9,178.8 771.1,187.4 776.9,194.7 784.1,201.2 792.0,203.3"/>
<polyline stroke="#861010" stroke-width="2.1" points="698.3,281.7 703.3,288.3 708.3,293.3 716.7,295.8 725.0,298.3 733.3,303.3 743.3,308.3 753.3,313.3 760.0,316.7 766.7,316.7 773.3,315.0 778.3,318.3 781.7,323.3 785.0,323.3 788.3,318.3 792.0,316.7"/>
<polyline stroke="#861010" stroke-width="2.1" points="660.0,276.7 670.0,278.3 673.3,273.3 668.3,270.0 661.7,263.3 655.0,256.7 653.3,265.0 656.7,276.7 661.7,285.0 666.7,293.3 671.7,303.3 676.7,310.0 683.3,316.7 691.7,323.3 700.0,331.7"/>
<polyline stroke="#861010" stroke-width="2.1" points="658.3,313.3 666.7,321.7 675.0,328.3 685.0,335.0"/>
<polyline stroke="#861010" stroke-width="2.1" points="678.3,281.7 683.3,285.0 685.8,288.3 685.8,280.8 681.0,279.0"/>
<polyline stroke="#861010" stroke-width="2.1" points="685.0,266.7 693.3,270.0 703.3,268.3 708.3,266.7"/>
<polyline stroke="#861010" stroke-width="2.1" points="668.9,197.8 671.1,198.3 672.2,204.4 674.4,210.0 676.1,215.6 676.7,221.1 672.2,223.3 668.9,227.8 664.4,232.2 658.9,234.4 655.6,232.2 656.7,227.8 655.6,222.2 657.8,217.8 662.2,215.6 665.6,213.3 667.8,207.8 666.7,202.2 668.9,197.8"/>
<polyline stroke="#861010" stroke-width="2.1" points="664.4,232.2 666.7,237.8 671.1,241.7"/>
<polyline stroke="#861010" stroke-width="2.1" points="677.8,187.8 676.1,191.1 677.8,194.4 680.0,191.7 679.4,188.3"/>
<polyline stroke="#00008c" stroke-width="3" points="536.0,205.3 533.3,209.3 530.7,214.7 528.7,221.3 530.7,228.0 536.0,230.7 540.0,232.0 541.3,236.0 545.3,240.0 546.7,245.3 554.7,246.7 560.0,252.0 566.7,256.0 574.7,256.7 580.0,256.7 586.7,259.3 594.7,262.0 602.7,261.3 610.7,260.0 618.7,261.3 626.7,265.3 633.3,270.7 640.0,274.7 650.0,281.7 660.0,282.5 671.7,281.7 683.3,279.2 693.3,276.7 705.0,273.3 715.0,266.7 720.0,260.0 723.3,253.3 725.8,246.7 733.3,245.8 736.7,244.2 731.7,242.5 726.7,240.0 725.0,235.0 726.7,228.3 728.3,223.3 723.3,223.3 718.3,220.0 717.7,219.2 719.1,216.3 724.9,217.8 729.2,214.9 727.8,210.6 724.2,209.1 726.3,205.5 730.7,202.6 733.6,202.6 740.8,204.1 745.1,201.9 750.9,199.7 759.6,199.7 765.3,197.8 774.0,198.3 782.7,198.3 792.0,199.0" shape-rendering="geometricPrecision"/>
<polyline stroke="#00008c" stroke-width="2.4" points="523.0,192.0 524.5,193.5" shape-rendering="geometricPrecision"/>
<polyline stroke="#00008c" stroke-width="2.4" points="527.0,196.0 528.5,197.5" shape-rendering="geometricPrecision"/>
<polyline stroke="#00008c" stroke-width="2.4" points="531.0,200.0 532.5,201.5" shape-rendering="geometricPrecision"/>
<polyline stroke="#00008c" stroke-width="2.4" points="534.5,203.0 536.0,204.5" shape-rendering="geometricPrecision"/>
<polyline stroke="#00008c" stroke-width="3" points="716.0,809.0 725.3,799.3 733.3,795.3" shape-rendering="geometricPrecision"/>
<polyline stroke="#00008c" stroke-width="3" points="784.7,784.5 792.0,785.3" shape-rendering="geometricPrecision"/>
<polyline stroke="#000" stroke-width="2.2" points="693.0,98.0 694.0,100.7 697.7,110.1 702.4,118.6 708.1,123.3 711.9,124.3 717.6,121.4 723.2,115.8 730.8,111.1 728.9,104.4 727.0,98.0"/>
</g>
<g clip-path="url(#cp)" fill="none" stroke="#000" stroke-width="1" shape-rendering="crispEdges">
<path d="M392.0 676.1L381.4 682.3M383.4 681.1l0.5 3.6M392.0 698.3L382.0 705.4M383.8 704.0l0.8 3.5M392.0 742.7L386.4 753.7M387.5 751.6l2.4 2.7M414.2 653.9L403.6 660.0M405.6 658.9l0.5 3.6M414.2 676.1L404.0 682.9M405.9 681.6l0.7 3.5M414.2 698.3L405.9 707.4M407.5 705.7l1.6 3.2M414.2 720.5L408.1 731.2M409.2 729.2l2.2 2.8M414.2 742.7L409.5 754.1M410.4 752.0l2.6 2.5M414.2 764.9L415.8 777.1M415.5 774.8l3.5 0.9M414.2 787.1L419.1 798.4M418.2 796.3l3.6 -0.1M414.2 809.3L418.3 820.9M417.5 818.8l3.6 0.2M436.4 609.5L425.4 614.8M427.4 613.8l0.2 3.6M436.4 631.7L425.8 637.8M427.8 636.7l0.5 3.6M436.4 653.9L426.7 661.4M428.5 660.0l1.0 3.5M436.4 676.1L428.2 685.2M429.7 683.5l1.6 3.2M436.4 698.3L429.8 708.6M431.0 706.7l2.1 2.9M436.4 720.5L431.9 732.0M432.8 729.8l2.6 2.5M436.4 742.7L435.2 754.9M436.4 764.9L438.0 777.1M436.4 787.1L442.6 797.8M441.4 795.8l3.6 -0.5M436.4 809.3L441.0 820.8M440.1 818.6l3.6 0.0M458.6 609.5L447.5 614.7M449.6 613.7l0.2 3.6M458.6 631.7L448.5 638.6M450.4 637.3l0.8 3.5M458.6 653.9L449.9 662.6M451.6 661.0l1.4 3.3M458.6 676.1L450.7 685.5M452.2 683.8l1.7 3.2M458.6 698.3L451.6 708.4M452.9 706.5l2.0 3.0M458.6 720.5L454.5 732.1M455.2 729.9l2.7 2.4M458.6 742.7L457.9 755.0M458.6 764.9L458.9 777.2M458.6 787.1L462.3 798.9M458.6 809.3L461.9 821.2M480.9 143.2L491.7 148.9M491.7 148.9l4.6 -3.9M480.9 565.1L469.0 568.3M471.2 567.7l-0.4 3.6M480.9 587.3L469.4 591.7M471.5 590.9l-0.1 3.6M480.9 609.5L469.9 615.0M471.9 614.0l0.3 3.6M480.9 631.7L471.1 639.2M472.9 637.8l1.0 3.5M480.9 653.9L472.0 662.5M473.7 660.9l1.4 3.3M480.9 676.1L473.0 685.5M474.4 683.8l1.7 3.2M480.9 698.3L472.8 707.6M474.3 705.9l1.6 3.2M480.9 720.5L476.7 732.1M477.4 729.9l2.7 2.4M480.9 742.7L480.4 755.0M480.9 764.9L480.9 777.2M480.9 774.9l3.3 1.3M480.9 787.1L484.0 799.0M480.9 809.3L482.9 821.4M503.1 98.8L512.6 106.5M512.6 106.5l5.2 -2.9M503.1 121.0L510.8 130.5M510.8 130.5l5.7 -1.8M503.1 143.2L514.5 147.6M514.5 147.6l4.1 -4.4M503.1 165.4L512.5 173.3M512.5 173.3l5.3 -2.8M503.1 542.9L490.9 545.0M493.2 544.6l-0.7 3.5M503.1 565.1L491.1 568.0M493.3 567.4l-0.5 3.6M503.1 587.3L491.3 591.0M493.5 590.3l-0.3 3.6M503.1 609.5L491.9 614.6M494.0 613.7l0.2 3.6M503.1 631.7L493.5 639.4M495.3 638.0l1.0 3.4M503.1 653.9L493.6 661.8M495.4 660.3l1.1 3.4M503.1 676.1L495.1 685.5M496.6 683.8l1.7 3.2M503.1 698.3L496.0 708.4M497.3 706.5l2.0 3.0M503.1 720.5L497.9 731.7M498.8 729.6l2.5 2.6M503.1 742.7L501.8 754.9M503.1 764.9L502.5 777.2M503.1 787.1L503.6 799.4M503.1 809.3L503.8 821.6M525.3 98.8L537.2 101.7M537.2 101.7l3.5 -4.9M525.3 121.0L537.1 124.1M537.1 124.1l3.6 -4.8M525.3 143.2L537.1 146.6M537.1 146.6l3.7 -4.7M525.3 165.4L537.1 168.8M537.1 168.8l3.7 -4.7M525.3 187.6L534.3 195.9M534.3 195.9l5.4 -2.6M525.3 542.9L513.3 545.7M515.5 545.2l-0.5 3.6M525.3 565.1L513.4 568.3M515.6 567.7l-0.4 3.6M525.3 587.3L513.5 590.9M515.7 590.2l-0.3 3.6M525.3 609.5L513.8 613.9M515.9 613.0l-0.1 3.6M525.3 631.7L514.8 638.2M516.8 637.0l0.6 3.5M525.3 653.9L515.5 661.4M517.3 660.0l1.0 3.5M525.3 676.1L516.5 684.8M518.2 683.2l1.4 3.3M525.3 698.3L517.7 708.0M519.1 706.2l1.8 3.1M525.3 720.5L519.7 731.5M520.8 729.4l2.4 2.7M525.3 742.7L522.6 754.7M523.1 752.5l3.0 2.0M525.3 764.9L524.2 777.2M525.3 787.1L528.4 799.0M527.8 796.8l3.6 0.5M525.3 809.3L526.2 821.6M526.0 819.3l3.4 1.1M547.5 98.8L559.4 95.9M559.4 95.9l0.9 -5.9M547.5 121.0L558.2 114.9M558.2 114.9l-0.8 -5.9M547.5 143.2L558.6 148.3M547.5 165.4L559.6 167.6M559.6 167.6l3.2 -5.1M547.5 187.6L556.6 195.8M556.6 195.8l5.4 -2.6M547.5 209.8L555.4 219.2M555.4 219.2l5.7 -1.9M547.5 232.0L554.4 242.2M554.4 242.2l5.9 -1.3M547.5 254.2L555.0 263.9M555.0 263.9l5.8 -1.7M547.5 520.7L535.6 523.8M537.8 523.2l-0.4 3.6M547.5 542.9L535.5 545.7M537.7 545.1l-0.6 3.6M547.5 565.1L535.6 568.3M537.8 567.7l-0.4 3.6M547.5 587.3L535.9 591.3M538.0 590.6l-0.2 3.6M547.5 609.5L536.1 614.1M538.2 613.2l-0.0 3.6M547.5 631.7L536.5 637.3M538.5 636.2l0.3 3.6M547.5 653.9L536.8 660.0M538.8 658.9l0.5 3.6M547.5 676.1L538.0 684.0M539.8 682.5l1.1 3.4M547.5 698.3L538.8 707.0M540.4 705.4l1.4 3.3M547.5 720.5L540.4 730.6M541.7 728.7l2.0 3.0M547.5 742.7L542.3 753.9M543.2 751.8l2.5 2.6M547.5 764.9L543.3 776.5M544.1 774.3l2.7 2.4M547.5 787.1L544.3 799.0M544.9 796.8l2.9 2.2M547.5 809.3L545.4 821.4M545.8 819.2l3.1 1.9M569.7 98.8L581.7 96.4M581.7 96.4l1.1 -5.9M569.7 121.0L581.7 118.4M581.7 118.4l1.0 -5.9M569.7 143.2L581.6 146.1M581.6 146.1l3.5 -4.9M569.7 165.4L578.4 174.0M578.4 174.0l5.5 -2.4M569.7 187.6L580.0 194.2M580.0 194.2l4.9 -3.5M569.7 209.8L579.8 216.7M579.8 216.7l5.0 -3.3M569.7 232.0L579.0 240.1M579.0 240.1l5.3 -2.7M569.7 254.2L579.1 262.1M579.1 262.1l5.3 -2.8M569.7 520.7L557.8 523.9M560.0 523.3l-0.4 3.6M569.7 542.9L557.6 545.0M559.8 544.6l-0.7 3.5M569.7 565.1L557.7 567.9M559.9 567.4l-0.5 3.6M569.7 587.3L557.9 590.9M560.1 590.2l-0.3 3.6M569.7 609.5L558.2 613.9M560.3 613.1l-0.1 3.6M569.7 631.7L558.3 636.3M560.4 635.5l0.0 3.6M569.7 653.9L558.6 659.2M560.7 658.2l0.2 3.6M569.7 676.1L559.5 683.0M561.4 681.7l0.8 3.5M569.7 698.3L560.2 706.1M561.9 704.6l1.1 3.4M569.7 720.5L561.4 729.6M562.9 727.9l1.6 3.2M569.7 742.7L562.7 752.9M564.0 751.0l2.0 3.0M569.7 764.9L564.1 775.9M565.1 773.8l2.4 2.7M569.7 787.1L565.2 798.6M566.1 796.4l2.6 2.5M569.7 809.3L565.6 820.9M566.4 818.8l2.7 2.4M591.9 98.8L603.9 96.0M603.9 96.0l0.9 -5.9M591.9 121.0L603.8 117.8M603.8 117.8l0.7 -6.0M591.9 143.2L603.6 139.6M603.6 139.6l0.5 -6.0M591.9 165.4L603.9 168.2M603.9 168.2l3.5 -4.9M591.9 187.6L603.5 191.5M603.5 191.5l3.9 -4.6M591.9 209.8L603.4 214.0M603.4 214.0l4.0 -4.5M591.9 232.0L602.0 239.0M602.0 239.0l5.0 -3.3M591.9 254.2L602.2 260.8M602.2 260.8l4.9 -3.5M591.9 476.2L584.9 486.4M586.2 484.5l2.0 3.0M591.9 498.5L583.7 507.6M585.2 505.9l1.6 3.2M591.9 520.7L581.7 527.6M583.6 526.3l0.8 3.5M591.9 542.9L580.5 547.5M582.6 546.6l0.0 3.6M591.9 565.1L580.1 568.8M582.3 568.1l-0.3 3.6M591.9 587.3L580.0 590.5M582.2 589.9l-0.4 3.6M591.9 609.5L580.2 613.4M582.4 612.7l-0.2 3.6M591.9 631.7L580.3 635.9M582.5 635.1l-0.1 3.6M591.9 653.9L580.0 657.1M582.2 656.5l-0.4 3.6M591.9 676.1L581.2 682.2M583.2 681.1l0.5 3.6M591.9 698.3L581.2 704.5M583.2 703.3l0.5 3.6M591.9 720.5L582.5 728.4M584.2 726.9l1.1 3.4M591.9 742.7L583.2 751.4M584.8 749.8l1.4 3.3M591.9 764.9L584.8 775.0M586.1 773.1l2.0 3.0M591.9 787.1L586.7 798.3M587.6 796.2l2.5 2.6M591.9 809.3L586.5 820.4M587.5 818.3l2.4 2.7M614.1 98.8L626.1 96.3M626.1 96.3l1.1 -5.9M614.1 121.0L626.0 118.1M626.0 118.1l0.9 -5.9M614.1 143.2L626.0 140.3M626.0 140.3l0.9 -5.9M614.1 165.4L626.1 162.8M626.1 162.8l1.0 -5.9M614.1 187.6L626.0 184.4M626.0 184.4l0.7 -6.0M614.1 209.8L626.0 212.8M626.0 212.8l3.5 -4.8M614.1 232.0L624.7 238.1M624.7 238.1l4.7 -3.7M614.1 254.2L624.5 260.8M624.5 260.8l4.9 -3.5M614.1 276.4L624.9 282.3M624.9 282.3l4.6 -3.8M614.1 431.8L612.3 444.0M612.6 441.7l3.1 1.8M614.1 454.0L607.9 464.7M609.1 462.7l2.2 2.8M614.1 476.2L607.5 486.7M608.8 484.7l2.1 2.9M614.1 498.5L607.0 508.5M608.3 506.6l2.0 3.0M614.1 520.7L604.5 528.4M606.3 526.9l1.0 3.4M614.1 542.9L603.2 548.6M605.3 547.6l0.4 3.6M614.1 565.1L602.6 569.4M604.7 568.6l-0.1 3.6M614.1 587.3L602.3 590.9M604.5 590.3l-0.3 3.6M614.1 609.5L602.5 613.7M604.7 612.9l-0.1 3.6M614.1 631.7L602.5 635.7M604.6 635.0l-0.2 3.6M614.1 653.9L602.5 658.1M604.7 657.3l-0.1 3.6M614.1 676.1L602.9 681.2M605.0 680.3l0.2 3.6M614.1 698.3L603.2 704.1M605.3 703.0l0.4 3.6M614.1 720.5L604.0 727.5M605.9 726.2l0.8 3.5M614.1 742.7L604.8 750.7M606.5 749.2l1.2 3.4M614.1 764.9L605.8 774.0M607.3 772.3l1.6 3.2M614.1 787.1L607.0 797.2M608.3 795.3l1.9 3.0M614.1 809.3L607.1 819.5M608.4 817.6l2.0 3.0M636.3 98.8L648.3 96.4M648.3 96.4l1.1 -5.9M636.3 121.0L648.3 118.2M648.3 118.2l0.9 -5.9M636.3 143.2L648.1 139.6M648.1 139.6l0.5 -6.0M636.3 165.4L648.0 161.6M648.0 161.6l0.4 -6.0M636.3 187.6L647.7 182.9M647.7 182.9l-0.0 -6.0M636.3 209.8L648.4 211.9M648.4 211.9l3.2 -5.1M636.3 232.0L646.9 238.1M646.9 238.1l4.7 -3.7M636.3 254.2L645.7 262.1M645.7 262.1l5.3 -2.8M636.3 276.4L647.7 281.0M647.7 281.0l4.2 -4.3M636.3 298.6L647.5 303.7M647.5 303.7l4.3 -4.1M636.3 409.6L639.9 421.4M639.9 421.4l6.0 0.5M636.3 431.8L639.4 443.7M638.8 441.5l3.6 0.4M636.3 454.0L633.7 466.1M634.2 463.8l3.0 2.0M636.3 476.2L627.6 485.0M629.2 483.3l1.4 3.3M636.3 498.5L625.4 504.3M627.5 503.2l0.4 3.6M636.3 520.7L625.1 525.7M627.2 524.7l0.1 3.6M636.3 542.9L625.0 547.7M627.1 546.8l0.1 3.6M636.3 565.1L624.4 568.3M626.6 567.7l-0.4 3.6M636.3 587.3L624.4 590.4M626.6 589.8l-0.4 3.6M636.3 609.5L624.3 612.3M626.5 611.7l-0.6 3.6M636.3 631.7L624.5 635.4M626.7 634.7l-0.3 3.6M636.3 653.9L624.7 658.1M626.9 657.3l-0.1 3.6M636.3 676.1L624.7 680.3M626.9 679.5l-0.1 3.6M636.3 698.3L624.9 702.9M627.0 702.1l0.0 3.6M636.3 720.5L625.6 726.7M627.6 725.5l0.5 3.6M636.3 742.7L626.2 749.8M628.1 748.4l0.8 3.5M636.3 764.9L626.9 772.8M628.6 771.3l1.1 3.4M636.3 787.1L628.4 796.5M629.9 794.8l1.7 3.2M636.3 809.3L628.2 818.6M629.7 816.9l1.6 3.2M658.5 98.8L670.4 95.7M670.4 95.7l0.8 -5.9M658.5 121.0L670.4 117.8M670.4 117.8l0.7 -6.0M658.5 143.2L670.3 139.6M670.3 139.6l0.5 -6.0M658.5 165.4L668.8 158.7M668.8 158.7l-1.1 -5.9M658.5 187.6L660.7 175.5M660.7 175.5l-5.1 -3.2M658.5 209.8L670.0 205.6M670.0 205.6l0.2 -6.0M658.5 232.0L670.4 235.1M670.4 235.1l3.6 -4.8M658.5 254.2L670.7 255.3M670.7 255.3l2.8 -5.3M658.5 276.4L670.6 278.5M670.6 278.5l3.2 -5.1M658.5 298.6L670.5 301.2M670.5 301.2l3.4 -5.0M658.5 320.8L665.8 330.7M665.8 330.7l5.8 -1.5M658.5 365.2L663.7 376.4M663.7 376.4l6.0 -0.3M658.5 387.4L662.9 398.9M662.9 398.9l6.0 0.1M658.5 409.6L662.7 421.2M662.7 421.2l6.0 0.2M658.5 431.8L662.1 443.6M661.4 441.4l3.6 0.3M658.5 454.0L653.9 465.4M654.7 463.3l2.6 2.5M658.5 476.2L647.8 482.4M649.8 481.3l0.5 3.6M658.5 498.5L647.2 503.4M649.3 502.5l0.1 3.6M658.5 520.7L646.6 523.7M648.8 523.1l-0.5 3.6M658.5 542.9L646.4 545.2M648.7 544.8l-0.7 3.5M658.5 565.1L646.5 567.7M648.7 567.2l-0.6 3.6M658.5 587.3L646.5 589.8M648.7 589.3l-0.6 3.5M658.5 609.5L646.5 612.2M648.7 611.7l-0.6 3.6M658.5 631.7L646.7 635.1M648.9 634.5l-0.4 3.6M658.5 653.9L646.9 658.0M649.1 657.2l-0.2 3.6M658.5 676.1L647.0 680.4M649.1 679.6l-0.1 3.6M658.5 698.3L647.2 703.2M649.3 702.3l0.1 3.6M658.5 720.5L647.6 726.2M649.6 725.1l0.3 3.6M658.5 742.7L647.5 748.3M647.5 748.3l0.5 6.0M658.5 764.9L648.5 772.1M650.4 770.8l0.9 3.5M658.5 787.1L648.9 794.8M648.9 794.8l1.7 5.7M658.5 809.3L649.0 817.2M649.0 817.2l1.8 5.7M680.7 98.8L692.6 95.5M692.6 95.5l0.7 -6.0M680.7 121.0L692.6 117.8M692.6 117.8l0.7 -6.0M680.7 143.2L692.6 140.2M692.6 140.2l0.8 -5.9M680.7 165.4L692.8 163.2M692.8 163.2l1.2 -5.9M680.7 187.6L691.1 181.0M691.1 181.0l-1.1 -5.9M680.7 209.8L691.4 203.8M691.4 203.8l-0.8 -6.0M680.7 232.0L691.8 226.8M691.8 226.8l-0.3 -6.0M680.7 254.2L691.4 248.1M691.4 248.1l-0.8 -5.9M680.7 276.4L692.0 271.6M692.0 271.6l-0.1 -6.0M680.7 298.6L692.3 294.4M692.3 294.4l0.2 -6.0M680.7 320.8L691.0 327.5M691.0 327.5l4.9 -3.5M680.7 343.0L688.5 352.6M688.5 352.6l5.7 -1.8M680.7 365.2L688.1 375.0M688.1 375.0l5.8 -1.6M680.7 387.4L686.9 398.1M686.9 398.1l5.9 -0.8M680.7 409.6L686.0 420.8M686.0 420.8l6.0 -0.3M680.7 431.8L691.1 438.4M689.1 437.2l2.9 -2.1M680.7 454.0L670.1 460.2M672.1 459.1l0.5 3.6M680.7 476.2L668.4 476.2M670.7 476.2l-1.3 3.3M680.7 498.5L668.4 498.4M670.7 498.4l-1.4 3.3M680.7 520.7L668.4 520.6M670.7 520.6l-1.4 3.3M680.7 542.9L668.4 541.9M670.7 542.1l-1.6 3.2M680.7 565.1L668.4 564.7M670.7 564.8l-1.4 3.3M680.7 587.3L668.4 587.3M670.7 587.3l-1.4 3.3M680.7 609.5L668.4 610.3M670.7 610.1l-1.1 3.4M680.7 631.7L668.5 633.5M670.8 633.1l-0.9 3.5M680.7 653.9L668.7 656.6M670.9 656.1l-0.6 3.6M680.7 676.1L668.9 679.7M668.9 679.7l-0.5 6.0M680.7 698.3L669.1 702.4M669.1 702.4l-0.3 6.0M680.7 720.5L669.0 724.3M669.0 724.3l-0.4 6.0M680.7 742.7L668.8 745.9M668.8 745.9l-0.7 6.0M680.7 764.9L669.5 769.9M669.5 769.9l0.2 6.0M680.7 787.1L670.0 793.3M670.0 793.3l0.8 5.9M680.7 809.3L670.2 815.7M670.2 815.7l0.9 5.9M702.9 98.8L714.6 95.0M714.6 95.0l0.4 -6.0M702.9 121.0L714.6 117.2M714.6 117.2l0.4 -6.0M702.9 143.2L714.5 139.2M714.5 139.2l0.3 -6.0M702.9 165.4L714.5 161.3M714.5 161.3l0.3 -6.0M702.9 187.6L714.5 183.4M714.5 183.4l0.2 -6.0M702.9 209.8L714.0 204.5M714.0 204.5l-0.4 -6.0M711.7 205.5l-0.4 -6.0M702.9 232.0L712.7 224.6M712.7 224.6l-1.6 -5.8M710.7 226.1l-1.6 -5.8M702.9 254.2L712.5 246.5M712.5 246.5l-1.7 -5.7M710.5 248.1l-1.7 -5.7M702.9 276.4L710.8 267.0M710.8 267.0l-2.8 -5.3M709.2 268.9l-2.8 -5.3M702.9 298.6L710.9 289.2M710.9 289.2l-2.8 -5.3M709.2 291.1l-2.8 -5.3M702.9 320.8L715.0 318.7M715.0 318.7l1.3 -5.9M702.9 343.0L710.9 352.4M710.9 352.4l5.7 -1.9M702.9 365.2L711.2 374.3M711.2 374.3l5.6 -2.1M702.9 387.4L711.6 396.1M711.6 396.1l5.5 -2.4M702.9 409.6L712.3 417.5M712.3 417.5l5.3 -2.8M702.9 431.8L715.1 433.6M715.1 433.6l3.0 -5.2M702.9 454.0L711.1 444.9M709.6 446.6l-1.6 -3.2M702.9 476.2L700.7 464.1M701.1 466.4l-3.5 -0.7M702.9 498.5L695.8 488.4M697.1 490.3l-3.5 0.8M702.9 520.7L693.4 512.8M695.2 514.3l-3.2 1.7M702.9 542.9L690.6 542.8M692.9 542.8l-1.4 3.3M702.9 565.1L690.6 565.1M692.9 565.1l-1.4 3.3M702.9 587.3L690.6 586.4M692.9 586.6l-1.6 3.2M702.9 609.5L690.6 609.1M692.9 609.2l-1.4 3.3M702.9 631.7L690.6 632.1M692.9 632.0l-1.2 3.4M702.9 653.9L690.7 655.2M693.0 654.9l-1.0 3.5M702.9 676.1L690.9 678.9M690.9 678.9l-0.9 5.9M702.9 698.3L691.3 702.3M691.3 702.3l-0.3 6.0M702.9 720.5L691.2 724.4M691.2 724.4l-0.4 6.0M702.9 742.7L691.1 746.3M691.1 746.3l-0.5 6.0M702.9 764.9L691.6 769.8M691.6 769.8l0.1 6.0M702.9 787.1L692.2 793.2M692.2 793.2l0.8 5.9M702.9 809.3L692.3 815.5M692.3 815.5l0.9 5.9M725.1 98.8L736.6 94.5M736.6 94.5l0.2 -6.0M725.1 121.0L736.7 116.8M736.7 116.8l0.2 -6.0M725.1 143.2L736.4 138.4M736.4 138.4l-0.1 -6.0M725.1 165.4L736.3 160.2M736.3 160.2l-0.3 -6.0M725.1 187.6L736.3 182.5M736.3 182.5l-0.2 -6.0M725.1 209.8L736.2 204.6M736.2 204.6l-0.3 -6.0M734.0 205.6l-0.3 -6.0M725.1 232.0L733.8 223.3M733.8 223.3l-2.3 -5.5M732.0 225.1l-2.3 -5.5M725.1 254.2L734.5 246.3M734.5 246.3l-1.9 -5.7M732.6 247.9l-1.9 -5.7M725.1 276.4L734.9 269.0M734.9 269.0l-1.6 -5.8M732.9 270.5l-1.6 -5.8M725.1 298.6L733.7 289.8M733.7 289.8l-2.4 -5.5M731.9 291.6l-2.4 -5.5M725.1 320.8L733.8 312.2M733.8 312.2l-2.3 -5.5M725.1 343.0L737.2 340.7M737.2 340.7l1.1 -5.9M725.1 365.2L737.3 367.0M737.3 367.0l3.0 -5.2M725.1 387.4L736.7 391.6M736.7 391.6l4.0 -4.5M725.1 409.6L737.0 412.8M737.0 412.8l3.6 -4.8M725.1 431.8L737.4 431.8M735.1 431.8l1.3 -3.3M725.1 454.0L733.8 445.3M732.2 447.0l-1.4 -3.3M725.1 476.2L723.0 464.1M723.4 466.4l-3.5 -0.8M725.1 498.5L717.5 488.7M719.0 490.6l-3.5 1.0M725.1 520.7L716.4 512.0M716.4 512.0l-5.5 2.4M725.1 542.9L713.2 539.7M715.5 540.3l-2.2 2.9M725.1 565.1L713.0 562.9M715.3 563.3l-1.9 3.1M725.1 587.3L713.0 585.2M715.2 585.6l-1.9 3.1M725.1 609.5L712.8 609.5M715.1 609.5l-1.4 3.3M725.1 631.7L712.8 631.8M715.1 631.7l-1.3 3.3M725.1 653.9L712.9 655.0M715.1 654.8l-1.1 3.4M725.1 676.1L713.0 678.2M713.0 678.2l-1.2 5.9M725.1 698.3L713.2 701.3M713.2 701.3l-0.8 5.9M725.1 720.5L713.3 724.0M713.3 724.0l-0.6 6.0M725.1 742.7L713.4 746.4M713.4 746.4l-0.5 6.0M725.1 764.9L713.5 769.0M713.5 769.0l-0.3 6.0M725.1 787.1L713.8 792.0M713.8 792.0l0.2 6.0M725.1 809.3L714.0 814.6M714.0 814.6l0.4 6.0M747.3 98.8L758.2 93.1M758.2 93.1l-0.5 -6.0M747.3 121.0L758.2 115.2M758.2 115.2l-0.6 -6.0M747.3 143.2L758.2 137.4M758.2 137.4l-0.6 -6.0M747.3 165.4L758.1 159.4M758.1 159.4l-0.7 -6.0M747.3 187.6L757.5 180.7M757.5 180.7l-1.3 -5.9M747.3 209.8L757.6 203.0M757.6 203.0l-1.2 -5.9M755.5 204.4l-1.2 -5.9M747.3 232.0L756.2 223.5M756.2 223.5l-2.2 -5.6M754.4 225.3l-2.2 -5.6M747.3 254.2L756.7 246.3M756.7 246.3l-1.8 -5.7M754.8 247.9l-1.8 -5.7M747.3 276.4L757.5 269.5M757.5 269.5l-1.3 -5.9M755.4 270.9l-1.3 -5.9M747.3 298.6L756.3 290.2M756.3 290.2l-2.2 -5.6M754.4 291.9l-2.2 -5.6M747.3 320.8L755.2 311.4M755.2 311.4l-2.8 -5.3M747.3 343.0L755.3 333.6M755.3 333.6l-2.8 -5.3M747.3 365.2L758.9 361.0M758.9 361.0l0.2 -6.0M747.3 387.4L759.6 387.2M759.6 387.2l2.1 -5.6M747.3 409.6L759.6 410.5M759.6 410.5l2.6 -5.4M747.3 431.8L759.4 429.7M759.4 429.7l1.2 -5.9M747.3 454.0L757.9 447.8M755.9 449.0l-0.5 -3.6M747.3 476.2L746.3 464.0M746.5 466.3l-3.4 -1.1M747.3 498.5L740.3 488.4M741.6 490.3l-3.5 0.8M747.3 520.7L739.1 511.5M739.1 511.5l-5.6 2.1M747.3 542.9L736.7 536.7M736.7 536.7l-4.7 3.7M747.3 565.1L735.8 560.9M735.8 560.9l-4.0 4.5M747.3 587.3L735.4 584.1M737.7 584.7l-2.2 2.9M747.3 609.5L735.4 606.3M737.6 606.9l-2.2 2.9M747.3 631.7L735.0 631.7M735.0 631.7l-2.3 5.6M747.3 653.9L735.0 653.9M735.0 653.9l-2.2 5.6M747.3 676.1L735.1 677.5M735.1 677.5l-1.6 5.8M747.3 698.3L735.2 700.4M735.2 700.4l-1.2 5.9M747.3 720.5L735.5 724.0M735.5 724.0l-0.6 6.0M747.3 742.7L735.5 746.3M735.5 746.3l-0.5 6.0M747.3 764.9L735.6 768.7M735.6 768.7l-0.4 6.0M747.3 787.1L735.8 791.3M735.8 791.3l-0.2 6.0M747.3 809.3L735.8 813.7M735.8 813.7l-0.1 6.0M769.5 98.8L779.7 91.9M779.7 91.9l-1.3 -5.9M769.5 121.0L779.6 113.9M779.6 113.9l-1.3 -5.8M769.5 143.2L779.9 136.6M779.9 136.6l-1.1 -5.9M769.5 165.4L780.2 159.2M780.2 159.2l-0.8 -5.9M769.5 187.6L778.9 179.7M778.9 179.7l-1.9 -5.7M769.5 209.8L778.5 201.3M778.5 201.3l-2.2 -5.6M776.6 203.1l-2.2 -5.6M769.5 232.0L777.4 222.6M777.4 222.6l-2.8 -5.3M775.8 224.5l-2.8 -5.3M769.5 254.2L778.2 245.5M778.2 245.5l-2.3 -5.5M776.4 247.3l-2.3 -5.5M769.5 276.4L779.6 269.3M779.6 269.3l-1.4 -5.8M777.5 270.8l-1.4 -5.8M769.5 298.6L777.4 289.2M777.4 289.2l-2.8 -5.3M775.8 291.1l-2.8 -5.3M769.5 320.8L777.6 311.5M777.6 311.5l-2.7 -5.3M769.5 343.0L776.1 332.6M776.1 332.6l-3.5 -4.9M769.5 365.2L778.2 356.5M778.2 356.5l-2.3 -5.5M769.5 387.4L781.1 383.3M781.1 383.3l0.2 -6.0M769.5 409.6L781.5 406.7M781.5 406.7l0.9 -5.9M769.5 431.8L781.1 427.6M781.1 427.6l0.2 -6.0M769.5 454.0L775.7 443.4M774.5 445.4l-2.2 -2.8M769.5 476.2L769.5 464.0M769.5 466.3l-3.3 -1.3M769.5 498.5L762.5 488.4M763.8 490.3l-3.5 0.8M769.5 520.7L761.3 511.5M761.3 511.5l-5.6 2.1M769.5 542.9L759.4 535.8M759.4 535.8l-5.0 3.3M769.5 565.1L758.4 559.9M758.4 559.9l-4.4 4.1M769.5 587.3L757.6 584.1M757.6 584.1l-3.6 4.8M769.5 609.5L757.4 607.3M757.4 607.3l-3.2 5.1M769.5 631.7L757.2 631.7M757.2 631.7l-2.3 5.6M769.5 653.9L757.2 654.5M757.2 654.5l-2.0 5.7M769.5 676.1L757.4 678.2M757.4 678.2l-1.2 5.9M769.5 698.3L757.4 700.4M757.4 700.4l-1.3 5.9M769.5 720.5L757.6 723.6M757.6 723.6l-0.8 6.0M769.5 742.7L757.8 746.3M757.8 746.3l-0.5 6.0M769.5 764.9L757.9 769.0M757.9 769.0l-0.3 6.0M769.5 787.1L758.0 791.3M758.0 791.3l-0.2 6.0M769.5 809.3L758.0 813.5M758.0 813.5l-0.2 6.0M791.7 98.8L802.0 92.0M802.0 92.0l-1.2 -5.9M791.7 121.0L801.9 114.0M801.9 114.0l-1.3 -5.9M791.7 143.2L802.1 136.6M802.1 136.6l-1.1 -5.9M791.7 165.4L802.1 158.8M802.1 158.8l-1.1 -5.9M791.7 187.6L801.4 180.0M801.4 180.0l-1.6 -5.8M791.7 209.8L800.8 201.5M800.8 201.5l-2.1 -5.6M799.0 203.2l-2.1 -5.6M791.7 232.0L800.1 223.0M800.1 223.0l-2.5 -5.4M798.4 224.8l-2.5 -5.4M791.7 254.2L800.7 245.8M800.7 245.8l-2.2 -5.6M798.8 247.5l-2.2 -5.6M791.7 276.4L801.2 268.6M801.2 268.6l-1.8 -5.7M799.3 270.2l-1.8 -5.7M791.7 298.6L800.3 289.8M800.3 289.8l-2.4 -5.5M798.5 291.6l-2.4 -5.5M791.7 320.8L799.9 311.7M799.9 311.7l-2.6 -5.4M791.7 343.0L799.6 333.6M799.6 333.6l-2.8 -5.3M791.7 365.2L801.0 357.1M801.0 357.1l-2.0 -5.7M791.7 387.4L803.4 383.6M803.4 383.6l0.4 -6.0M791.7 409.6L803.5 406.3M803.5 406.3l0.6 -6.0M791.7 431.8L802.6 426.1M802.6 426.1l-0.6 -6.0M791.7 454.0L798.1 443.5M796.9 445.5l-2.1 -2.9M791.7 476.2L791.6 464.0M791.6 466.3l-3.4 -1.3M791.7 498.5L785.7 487.7M786.8 489.7l-3.6 0.5M791.7 520.7L783.3 511.6M783.3 511.6l-5.6 2.1M791.7 542.9L781.6 535.8M781.6 535.8l-5.0 3.3M791.7 565.1L780.6 559.9M780.6 559.9l-4.4 4.1M791.7 587.3L779.9 583.9M779.9 583.9l-3.7 4.7M791.7 609.5L779.6 607.4M779.6 607.4l-3.2 5.1M791.7 631.7L779.4 631.1M779.4 631.1l-2.5 5.4M791.7 653.9L779.4 654.4M779.4 654.4l-2.0 5.6M791.7 676.1L779.6 677.9M779.6 677.9l-1.4 5.8M791.7 698.3L779.6 700.2M779.6 700.2l-1.4 5.8M791.7 720.5L779.7 723.1M779.7 723.1l-1.0 5.9M791.7 742.7L779.9 746.2M779.9 746.2l-0.6 6.0M791.7 764.9L780.1 769.0M780.1 769.0l-0.3 6.0M791.7 787.1L780.2 791.3M780.2 791.3l-0.2 6.0M791.7 809.3L780.2 813.5M780.2 813.5l-0.2 6.0"/>
</g>
<g shape-rendering="crispEdges">
<line x1="431.5" y1="99" x2="431.5" y2="450" stroke="#000" stroke-width="1" stroke-dasharray="3,2"/>
<line x1="81" y1="450.5" x2="791" y2="450.5" stroke="#000" stroke-width="1" stroke-dasharray="4,2"/>
<rect x="430" y="450" width="3" height="359" fill="#000"/>
</g>
<circle cx="341.3" cy="451" r="3.8" fill="#000"/>
<circle cx="432" cy="540" r="3.8" fill="#000"/>
<circle cx="581.3" cy="219" r="3.8" fill="#000"/>
<circle cx="724.2" cy="187.4" r="3.8" fill="#000"/>
<circle cx="731.3" cy="354.2" r="3.8" fill="#000"/>
<circle cx="710" cy="724" r="3.8" fill="#000"/>
<circle cx="786" cy="570" r="3.8" fill="#000"/>
<circle cx="635" cy="100.5" r="3.8" fill="#000"/>
<g>
<text class="s" x="349" y="455.7" font-size="13" fill="#000" textLength="23" lengthAdjust="spacingAndGlyphs" stroke="#fff" stroke-width="0.1" xml:space="preserve">NCO</text>
<text class="s" x="438" y="545" font-size="13" fill="#000" textLength="36.5" lengthAdjust="spacingAndGlyphs" stroke="#fff" stroke-width="0.1" xml:space="preserve">Henry</text>
<mask id="k1" maskUnits="userSpaceOnUse" x="586" y="210.7" width="29.5" height="18.2"><text class="s" x="590" y="223.7" font-size="13" fill="#fff" stroke="#000" stroke-width="0.12" textLength="21.5" lengthAdjust="spacingAndGlyphs" xml:space="preserve">KLN</text></mask><rect x="586" y="210.7" width="29.5" height="18.2" fill="#000" mask="url(#k1)"/>
<mask id="k2" maskUnits="userSpaceOnUse" x="728.5" y="179.3" width="30" height="18.2"><text class="s" x="732.5" y="192.3" font-size="13" fill="#fff" stroke="#000" stroke-width="0.12" textLength="22" lengthAdjust="spacingAndGlyphs" xml:space="preserve">PDG</text></mask><rect x="728.5" y="179.3" width="30" height="18.2" fill="#000" mask="url(#k2)"/>
<mask id="k3" maskUnits="userSpaceOnUse" x="736" y="346.3" width="30" height="18.2"><text class="s" x="740" y="359.3" font-size="13" fill="#fff" stroke="#000" stroke-width="0.12" textLength="22" lengthAdjust="spacingAndGlyphs" xml:space="preserve">HRC</text></mask><rect x="736" y="346.3" width="30" height="18.2" fill="#000" mask="url(#k3)"/>
<mask id="k4" maskUnits="userSpaceOnUse" x="714.7" y="715.7" width="30" height="18.2"><text class="s" x="718.7" y="728.7" font-size="13" fill="#fff" stroke="#000" stroke-width="0.12" textLength="22" lengthAdjust="spacingAndGlyphs" xml:space="preserve">AG2</text></mask><rect x="714.7" y="715.7" width="30" height="18.2" fill="#000" mask="url(#k4)"/>
<mask id="k5" maskUnits="userSpaceOnUse" x="621.5" y="99.5" width="29" height="18.2"><text class="s" x="625.5" y="112.5" font-size="13" fill="#fff" stroke="#000" stroke-width="0.12" textLength="21" lengthAdjust="spacingAndGlyphs" xml:space="preserve">LVY</text></mask><rect x="621.5" y="99.5" width="29" height="18.2" fill="#000" mask="url(#k5)"/>
<text class="s" x="420.9" y="89.8" font-size="13" fill="#000" textLength="21" lengthAdjust="spacingAndGlyphs" stroke="#fff" stroke-width="0.1" xml:space="preserve">180</text>
<text class="s" x="765" y="89.8" font-size="13" fill="#000" textLength="38" lengthAdjust="spacingAndGlyphs" stroke="#fff" stroke-width="0.1" xml:space="preserve">135 W</text>
<text class="s" x="801" y="456.3" font-size="13" fill="#000" textLength="29" lengthAdjust="spacingAndGlyphs" stroke="#fff" stroke-width="0.1" xml:space="preserve">90 W</text>
</g>
<mask id="k6" maskUnits="userSpaceOnUse" x="672" y="626.2" width="41" height="30.52"><text class="m" x="676" y="648" font-size="21.8" fill="#fff" stroke="#000" stroke-width="0.28" textLength="33" lengthAdjust="spacingAndGlyphs" xml:space="preserve">-20</text></mask><rect x="672" y="626.2" width="41" height="30.52" fill="#861010" mask="url(#k6)"/>
<mask id="k7" maskUnits="userSpaceOnUse" x="615" y="301.7" width="41" height="30.52"><text class="m" x="619" y="323.5" font-size="21.8" fill="#fff" stroke="#000" stroke-width="0.28" textLength="33" lengthAdjust="spacingAndGlyphs" xml:space="preserve">-20</text></mask><rect x="615" y="301.7" width="41" height="30.52" fill="#861010" mask="url(#k7)"/>
<mask id="k8" maskUnits="userSpaceOnUse" x="567" y="171.5" width="79.5" height="30.52"><text class="m" x="571" y="193.3" font-size="21.8" fill="#fff" stroke="#000" stroke-width="0.28" textLength="71.5" lengthAdjust="spacingAndGlyphs" xml:space="preserve">-15.26</text></mask><rect x="567" y="171.5" width="79.5" height="30.52" fill="#861010" mask="url(#k8)"/>
<mask id="k9" maskUnits="userSpaceOnUse" x="584" y="145.5" width="19" height="34.3"><text class="m" x="588" y="170" font-size="24.5" fill="#fff" stroke="#000" stroke-width="0.28" textLength="11" lengthAdjust="spacingAndGlyphs" xml:space="preserve">H</text></mask><rect x="584" y="145.5" width="19" height="34.3" fill="#861010" mask="url(#k9)"/>
<mask id="k10" maskUnits="userSpaceOnUse" x="682.5" y="241.5" width="77" height="30.52"><text class="m" x="686.5" y="263.3" font-size="21.8" fill="#fff" stroke="#000" stroke-width="0.28" textLength="69" lengthAdjust="spacingAndGlyphs" xml:space="preserve">-14.06</text></mask><rect x="682.5" y="241.5" width="77" height="30.52" fill="#861010" mask="url(#k10)"/>
<mask id="k11" maskUnits="userSpaceOnUse" x="696" y="217.5" width="18.5" height="32.2"><text class="m" x="700" y="240.5" font-size="23" fill="#fff" stroke="#000" stroke-width="0.28" textLength="10.5" lengthAdjust="spacingAndGlyphs" xml:space="preserve">H</text></mask><rect x="696" y="217.5" width="18.5" height="32.2" fill="#861010" mask="url(#k11)"/>
<mask id="k12" maskUnits="userSpaceOnUse" x="709.5" y="327.5" width="18.5" height="32.2"><text class="m" x="713.5" y="350.5" font-size="23" fill="#fff" stroke="#000" stroke-width="0.28" textLength="10.5" lengthAdjust="spacingAndGlyphs" xml:space="preserve">H</text></mask><rect x="709.5" y="327.5" width="18.5" height="32.2" fill="#861010" mask="url(#k12)"/>
<mask id="k13" maskUnits="userSpaceOnUse" x="696.5" y="354.9" width="77" height="30.52"><text class="m" x="700.5" y="376.7" font-size="21.8" fill="#fff" stroke="#000" stroke-width="0.28" textLength="69" lengthAdjust="spacingAndGlyphs" xml:space="preserve">-13.98</text></mask><rect x="696.5" y="354.9" width="77" height="30.52" fill="#861010" mask="url(#k13)"/>
<mask id="k14" maskUnits="userSpaceOnUse" x="654.5" y="188.8" width="16.5" height="30.8"><text class="m" x="658.5" y="210.8" font-size="22" fill="#fff" stroke="#000" stroke-width="0.28" textLength="8.5" lengthAdjust="spacingAndGlyphs" xml:space="preserve">L</text></mask><rect x="654.5" y="188.8" width="16.5" height="30.8" fill="#00008c" mask="url(#k14)"/>
<mask id="k15" maskUnits="userSpaceOnUse" x="641.5" y="214.2" width="54" height="28"><text class="m" x="645.5" y="234.2" font-size="20" fill="#fff" stroke="#000" stroke-width="0.28" textLength="46" lengthAdjust="spacingAndGlyphs" xml:space="preserve">2630</text></mask><rect x="641.5" y="214.2" width="54" height="28" fill="#00008c" mask="url(#k15)"/>
<mask id="k16" maskUnits="userSpaceOnUse" x="732.5" y="774.3" width="55.5" height="32.2"><text class="m" x="736.5" y="797.3" font-size="23" fill="#fff" stroke="#000" stroke-width="0.28" textLength="47.5" lengthAdjust="spacingAndGlyphs" xml:space="preserve">2640</text></mask><rect x="732.5" y="774.3" width="55.5" height="32.2" fill="#00008c" mask="url(#k16)"/>
<rect x="630.6" y="192.2" width="63.1" height="46.1" fill="none" stroke="#00008c" stroke-width="1.2"/>
<rect x="733.3" y="777.3" width="51.4" height="22" fill="none" stroke="#00008c" stroke-width="1.2"/><rect x="590.5" y="203" width="1.5" height="2.5" fill="#00008c" shape-rendering="crispEdges"/><rect x="594" y="202.5" width="1.5" height="2" fill="#00008c" shape-rendering="crispEdges"/><rect x="596.5" y="207.5" width="2" height="2" fill="#00008c" shape-rendering="crispEdges"/><rect x="589" y="207" width="2" height="1.5" fill="#00008c" shape-rendering="crispEdges"/><rect x="593" y="211" width="1.5" height="2" fill="#00008c" shape-rendering="crispEdges"/><rect x="597.5" y="212" width="1.5" height="1.5" fill="#00008c" shape-rendering="crispEdges"/>
<rect x="80.5" y="98.5" width="710.5" height="710.5" fill="none" stroke="#000" stroke-width="1.3"/>
<path d="M90.1 98.5 v5 M90.1 809 v-5 M112.3 98.5 v5 M112.3 809 v-5 M134.5 98.5 v9 M134.5 809 v-9 M156.7 98.5 v5 M156.7 809 v-5 M178.9 98.5 v5 M178.9 809 v-5 M201.1 98.5 v5 M201.1 809 v-5 M223.3 98.5 v5 M223.3 809 v-5 M245.5 98.5 v9 M245.5 809 v-9 M267.7 98.5 v5 M267.7 809 v-5 M289.9 98.5 v5 M289.9 809 v-5 M312.1 98.5 v5 M312.1 809 v-5 M334.3 98.5 v5 M334.3 809 v-5 M356.5 98.5 v9 M356.5 809 v-9 M378.8 98.5 v5 M378.8 809 v-5 M401.0 98.5 v5 M401.0 809 v-5 M423.2 98.5 v5 M423.2 809 v-5 M445.4 98.5 v5 M445.4 809 v-5 M467.6 98.5 v9 M467.6 809 v-9 M489.8 98.5 v5 M489.8 809 v-5 M512.0 98.5 v5 M512.0 809 v-5 M534.2 98.5 v5 M534.2 809 v-5 M556.4 98.5 v5 M556.4 809 v-5 M578.6 98.5 v9 M578.6 809 v-9 M600.8 98.5 v5 M600.8 809 v-5 M623.0 98.5 v5 M623.0 809 v-5 M645.2 98.5 v5 M645.2 809 v-5 M667.4 98.5 v5 M667.4 809 v-5 M689.6 98.5 v9 M689.6 809 v-9 M711.8 98.5 v5 M711.8 809 v-5 M734.0 98.5 v5 M734.0 809 v-5 M756.2 98.5 v5 M756.2 809 v-5 M778.4 98.5 v5 M778.4 809 v-5 M80.5 795.5 h5 M791 795.5 h-5 M80.5 773.3 h9 M791 773.3 h-9 M80.5 751.1 h5 M791 751.1 h-5 M80.5 728.9 h5 M791 728.9 h-5 M80.5 706.7 h5 M791 706.7 h-5 M80.5 684.5 h5 M791 684.5 h-5 M80.5 662.3 h9 M791 662.3 h-9 M80.5 640.1 h5 M791 640.1 h-5 M80.5 617.9 h5 M791 617.9 h-5 M80.5 595.7 h5 M791 595.7 h-5 M80.5 573.5 h5 M791 573.5 h-5 M80.5 551.2 h9 M791 551.2 h-9 M80.5 529.0 h5 M791 529.0 h-5 M80.5 506.8 h5 M791 506.8 h-5 M80.5 484.6 h5 M791 484.6 h-5 M80.5 462.4 h5 M791 462.4 h-5 M80.5 440.2 h9 M791 440.2 h-9 M80.5 418.0 h5 M791 418.0 h-5 M80.5 395.8 h5 M791 395.8 h-5 M80.5 373.6 h5 M791 373.6 h-5 M80.5 351.4 h5 M791 351.4 h-5 M80.5 329.2 h9 M791 329.2 h-9 M80.5 307.0 h5 M791 307.0 h-5 M80.5 284.8 h5 M791 284.8 h-5 M80.5 262.6 h5 M791 262.6 h-5 M80.5 240.4 h5 M791 240.4 h-5 M80.5 218.2 h9 M791 218.2 h-9 M80.5 196.0 h5 M791 196.0 h-5 M80.5 173.8 h5 M791 173.8 h-5 M80.5 151.6 h5 M791 151.6 h-5 M80.5 129.4 h5 M791 129.4 h-5 M80.5 107.1 h9 M791 107.1 h-9" stroke="#000" stroke-width="1" fill="none" shape-rendering="crispEdges"/>
<text class="s" x="134.5" y="828" font-size="13" text-anchor="middle" stroke="#fff" stroke-width="0.25">200</text>
<text class="s" x="245.5" y="828" font-size="13" text-anchor="middle" stroke="#fff" stroke-width="0.25">250</text>
<text class="s" x="356.5" y="828" font-size="13" text-anchor="middle" stroke="#fff" stroke-width="0.25">300</text>
<text class="s" x="467.6" y="828" font-size="13" text-anchor="middle" stroke="#fff" stroke-width="0.25">350</text>
<text class="s" x="578.6" y="828" font-size="13" text-anchor="middle" stroke="#fff" stroke-width="0.25">400</text>
<text class="s" x="689.6" y="828" font-size="13" text-anchor="middle" stroke="#fff" stroke-width="0.25">450</text>
<text class="s" x="72" y="778.0" font-size="13" text-anchor="end" stroke="#fff" stroke-width="0.25">50</text>
<text class="s" x="72" y="667.0" font-size="13" text-anchor="end" stroke="#fff" stroke-width="0.25">100</text>
<text class="s" x="72" y="556.0" font-size="13" text-anchor="end" stroke="#fff" stroke-width="0.25">150</text>
<text class="s" x="72" y="444.9" font-size="13" text-anchor="end" stroke="#fff" stroke-width="0.25">200</text>
<text class="s" x="72" y="333.9" font-size="13" text-anchor="end" stroke="#fff" stroke-width="0.25">250</text>
<text class="s" x="72" y="222.9" font-size="13" text-anchor="end" stroke="#fff" stroke-width="0.25">300</text>
<text class="s" x="72" y="111.8" font-size="13" text-anchor="end" stroke="#fff" stroke-width="0.25">350</text>
<rect x="836.5" y="98.50" width="14.5" height="71.00" fill="#ff0000" stroke="#000" stroke-width="1" shape-rendering="crispEdges"/>
<rect x="836.5" y="169.50" width="14.5" height="71.00" fill="#be2000" stroke="#000" stroke-width="1" shape-rendering="crispEdges"/>
<rect x="836.5" y="240.50" width="14.5" height="71.00" fill="#445f00" stroke="#000" stroke-width="1" shape-rendering="crispEdges"/>
<rect x="836.5" y="311.50" width="14.5" height="71.00" fill="#008200" stroke="#000" stroke-width="1" shape-rendering="crispEdges"/>
<rect x="836.5" y="382.50" width="14.5" height="72.00" fill="#00ba0c" stroke="#000" stroke-width="1" shape-rendering="crispEdges"/>
<rect x="836.5" y="454.50" width="14.5" height="71.00" fill="#20fa2c" stroke="#000" stroke-width="1" shape-rendering="crispEdges"/>
<rect x="836.5" y="525.50" width="14.5" height="71.00" fill="#5cff5c" stroke="#000" stroke-width="1" shape-rendering="crispEdges"/>
<rect x="836.5" y="596.50" width="14.5" height="71.00" fill="#5affa0" stroke="#000" stroke-width="1" shape-rendering="crispEdges"/>
<rect x="836.5" y="667.50" width="14.5" height="71.00" fill="#64ffd2" stroke="#000" stroke-width="1" shape-rendering="crispEdges"/>
<rect x="836.5" y="738.50" width="14.5" height="70.50" fill="#c8ffeb" stroke="#000" stroke-width="1" shape-rendering="crispEdges"/>
<text class="s" x="862.5" y="175.9" font-size="17.2" textLength="29" lengthAdjust="spacingAndGlyphs" stroke="#fff" stroke-width="0.45">120</text>
<text class="s" x="862.5" y="246.9" font-size="17.2" textLength="29" lengthAdjust="spacingAndGlyphs" stroke="#fff" stroke-width="0.45">110</text>
<text class="s" x="862.5" y="317.9" font-size="17.2" textLength="29" lengthAdjust="spacingAndGlyphs" stroke="#fff" stroke-width="0.45">100</text>
<text class="s" x="862.5" y="389.0" font-size="17.2" textLength="19.3" lengthAdjust="spacingAndGlyphs" stroke="#fff" stroke-width="0.45">90</text>
<text class="s" x="862.5" y="460.1" font-size="17.2" textLength="19.3" lengthAdjust="spacingAndGlyphs" stroke="#fff" stroke-width="0.45">80</text>
<text class="s" x="862.5" y="531.1" font-size="17.2" textLength="19.3" lengthAdjust="spacingAndGlyphs" stroke="#fff" stroke-width="0.45">70</text>
<text class="s" x="862.5" y="602.1" font-size="17.2" textLength="19.3" lengthAdjust="spacingAndGlyphs" stroke="#fff" stroke-width="0.45">60</text>
<text class="s" x="862.5" y="673.2" font-size="17.2" textLength="19.3" lengthAdjust="spacingAndGlyphs" stroke="#fff" stroke-width="0.45">50</text>
<text class="s" x="862.5" y="744.2" font-size="17.2" textLength="19.3" lengthAdjust="spacingAndGlyphs" stroke="#fff" stroke-width="0.45">40</text>
<text class="s" x="862" y="105.5" font-size="17" textLength="9" lengthAdjust="spacingAndGlyphs" stroke="#fff" stroke-width="0">%</text>
<text class="m" x="6" y="18.3" font-size="17.7" fill="#000" textLength="202" lengthAdjust="spacingAndGlyphs"  stroke="#fff" stroke-width="0.22" xml:space="preserve">AMPS 2.67-km WRF SP</text>
<text class="m" x="6" y="37.7" font-size="17.7" fill="#000" textLength="127" lengthAdjust="spacingAndGlyphs"  stroke="#fff" stroke-width="0.22" xml:space="preserve">Fcst:   82 h</text>
<text class="m" x="616.5" y="19" font-size="17.7" fill="#000" textLength="277.5" lengthAdjust="spacingAndGlyphs"  stroke="#fff" stroke-width="0.22" xml:space="preserve">Init: 12 UTC Tue 13 Jan 26</text>
<text class="m" x="605" y="39" font-size="17.7" fill="#000" textLength="289" lengthAdjust="spacingAndGlyphs"  stroke="#fff" stroke-width="0.22" xml:space="preserve">Valid: 22 UTC Fri 16 Jan 26</text>
<text class="m" x="9.3" y="56.7" font-size="16.3" fill="#000" textLength="295.7" lengthAdjust="spacingAndGlyphs"  stroke="#fff" stroke-width="0.22" xml:space="preserve">Relative humidity (w.r.t. ice)</text>
<text class="m" x="9.3" y="75.7" font-size="16.3" fill="#8c0000" textLength="107.4" lengthAdjust="spacingAndGlyphs"  stroke="#fff" stroke-width="0.22" xml:space="preserve">Temperature</text>
<text class="m" x="9.3" y="94.3" font-size="16.3" fill="#00008c" textLength="185.7" lengthAdjust="spacingAndGlyphs"  stroke="#fff" stroke-width="0.22" xml:space="preserve">Geopotential height</text>
<text class="m" x="385" y="56.7" font-size="16.3" fill="#000" textLength="217" lengthAdjust="spacingAndGlyphs"  stroke="#fff" stroke-width="0.22" xml:space="preserve">at pressure =  700 hPa</text>
<text class="m" x="385" y="75.7" font-size="16.3" fill="#8c0000" textLength="217" lengthAdjust="spacingAndGlyphs"  stroke="#fff" stroke-width="0.22" xml:space="preserve">at pressure =  700 hPa</text>
<text class="m" x="385" y="94.3" font-size="16.3" fill="#00008c" textLength="217" lengthAdjust="spacingAndGlyphs"  stroke="#fff" stroke-width="0.22" xml:space="preserve">at pressure =  700 hPa</text>
<text class="m" x="770" y="94.3" font-size="16.3" fill="#00008c" textLength="50" lengthAdjust="spacingAndGlyphs"  stroke="#fff" stroke-width="0.22" xml:space="preserve">sm= 2</text>
<text class="m" x="90.8" y="878" font-size="13.4" fill="#000" textLength="806" lengthAdjust="spacingAndGlyphs"  stroke="#fff" stroke-width="0.22" xml:space="preserve">Model Info: MPASv8.2.3-194-gf29cd82c CU:cu_grell_freitas PBL:bl_mynn MP:mp_thompson SF:sf_noahmp 2.7</text>
<text class="m" x="269" y="892.7" font-size="13.4" fill="#000" textLength="297" lengthAdjust="spacingAndGlyphs"  stroke="#fff" stroke-width="0.22" xml:space="preserve">LW:rrtmg_lw SW:rrtmg_sw SFLAY:sf_mynn</text>
<text class="t" x="155" y="848" font-size="12" fill="#00008c" textLength="71.5" lengthAdjust="spacingAndGlyphs"  xml:space="preserve">CONTOURS:</text>
<text class="t" x="240" y="848" font-size="12" fill="#00008c" textLength="61.5" lengthAdjust="spacingAndGlyphs"  xml:space="preserve">UNITS=m</text>
<text class="t" x="315" y="848" font-size="12" fill="#00008c" textLength="35" lengthAdjust="spacingAndGlyphs"  xml:space="preserve">LOW=</text>
<text class="t" x="363.5" y="848" font-size="12" fill="#00008c" textLength="44" lengthAdjust="spacingAndGlyphs"  xml:space="preserve">2640.0</text>
<text class="t" x="446" y="848" font-size="12" fill="#00008c" textLength="41.5" lengthAdjust="spacingAndGlyphs"  xml:space="preserve">HIGH=</text>
<text class="t" x="502" y="848" font-size="12" fill="#00008c" textLength="44" lengthAdjust="spacingAndGlyphs"  xml:space="preserve">2640.0</text>
<text class="t" x="584" y="848" font-size="12" fill="#00008c" textLength="72" lengthAdjust="spacingAndGlyphs"  xml:space="preserve">INTERVAL=</text>
<text class="t" x="676" y="848" font-size="12" fill="#00008c" textLength="43.5" lengthAdjust="spacingAndGlyphs"  xml:space="preserve">60.000</text>
<text class="t" x="150" y="861.7" font-size="12" fill="#8c0000" textLength="72.5" lengthAdjust="spacingAndGlyphs"  xml:space="preserve">CONTOURS:</text>
<text class="t" x="236" y="861.7" font-size="12" fill="#8c0000" textLength="61.5" lengthAdjust="spacingAndGlyphs"  xml:space="preserve">UNITS=°C</text>
<text class="t" x="311.5" y="861.7" font-size="12" fill="#8c0000" textLength="33.5" lengthAdjust="spacingAndGlyphs"  xml:space="preserve">LOW=</text>
<text class="t" x="355" y="861.7" font-size="12" fill="#8c0000" textLength="52.5" lengthAdjust="spacingAndGlyphs"  xml:space="preserve">−25.000</text>
<text class="t" x="446" y="861.7" font-size="12" fill="#8c0000" textLength="41.5" lengthAdjust="spacingAndGlyphs"  xml:space="preserve">HIGH=</text>
<text class="t" x="497" y="861.7" font-size="12" fill="#8c0000" textLength="52.5" lengthAdjust="spacingAndGlyphs"  xml:space="preserve">−15.000</text>
<text class="t" x="589" y="861.7" font-size="12" fill="#8c0000" textLength="72" lengthAdjust="spacingAndGlyphs"  xml:space="preserve">INTERVAL=</text>
<text class="t" x="680" y="861.7" font-size="12" fill="#8c0000" textLength="43.5" lengthAdjust="spacingAndGlyphs"  xml:space="preserve">5.0000</text>
</svg></body></html>
